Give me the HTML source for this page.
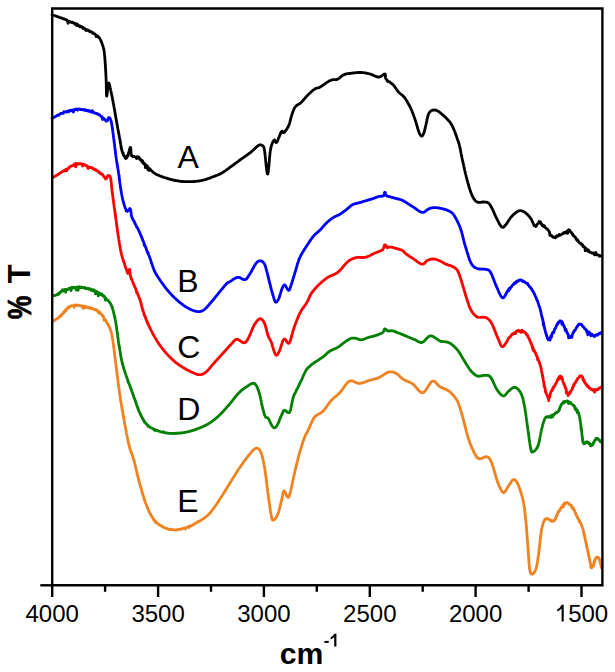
<!DOCTYPE html>
<html><head><meta charset="utf-8"><style>
html,body{margin:0;padding:0;background:#fff;}
svg{display:block;}
text{font-family:"Liberation Sans",sans-serif;}
</style></head><body>
<svg width="615" height="672" viewBox="0 0 615 672">
<rect width="615" height="672" fill="#fff"/>
<g fill="none" stroke-width="2.8" stroke-linejoin="round" stroke-linecap="round">
<polyline points="52.0,14.9 52.4,15.0 52.8,15.1 53.3,15.3 53.9,15.5 54.6,15.7 55.3,15.9 56.0,16.1 56.7,16.3 57.4,16.6 58.0,16.8 58.6,17.0 59.2,17.2 59.7,17.5 60.3,17.9 60.9,17.9 61.5,18.0 62.1,18.2 62.7,18.6 63.3,18.6 63.9,19.0 64.5,19.0 65.1,19.5 65.7,19.5 66.3,19.8 66.9,19.8 67.5,21.1 68.0,23.3 68.6,21.5 69.2,21.2 69.8,21.9 70.4,22.0 71.0,22.0 71.6,22.6 72.2,22.2 72.8,22.4 73.4,23.0 74.0,23.3 74.5,23.2 75.1,24.2 75.7,23.5 76.3,24.2 76.9,25.6 77.5,24.2 78.0,25.4 78.6,25.6 79.1,25.8 79.7,26.9 80.2,26.0 80.8,26.4 81.3,26.5 81.8,27.4 82.4,27.0 82.9,28.3 83.5,27.7 84.0,28.4 84.5,28.7 85.1,28.6 85.7,30.2 86.2,29.5 86.8,30.4 87.3,29.9 87.9,29.9 88.4,30.6 89.0,31.2 89.5,31.0 90.0,31.8 90.5,31.3 91.1,31.8 91.8,32.1 92.4,33.1 93.0,32.8 93.5,33.5 94.1,33.9 94.7,33.8 95.2,34.2 95.7,34.7 96.2,36.6 96.7,35.5 97.1,35.6 97.6,36.3 98.0,36.2 98.4,37.3 98.8,37.5 99.2,37.6 99.6,38.2 99.9,38.8 100.2,39.5 100.5,39.9 100.8,40.4 101.0,41.0 101.3,41.5 101.5,42.1 101.7,42.7 102.0,43.3 102.2,44.0 102.4,44.5 102.5,45.0 102.7,45.5 102.9,46.0 103.0,46.5 103.2,47.0 103.4,47.5 103.5,48.1 103.7,48.7 103.8,49.4 103.9,50.1 104.1,50.9 104.2,51.8 104.3,52.3 104.3,52.8 104.4,53.3 104.4,53.8 104.5,54.4 104.6,54.9 104.6,55.5 104.7,56.1 104.7,56.7 104.8,57.4 104.8,58.0 104.9,58.6 104.9,59.3 105.0,59.9 105.0,60.6 105.1,61.3 105.1,61.9 105.2,62.6 105.2,63.2 105.3,63.9 105.3,64.5 105.3,65.2 105.4,65.8 105.4,66.4 105.5,67.0 105.5,67.6 105.5,68.3 105.6,68.9 105.6,69.5 105.7,70.2 105.7,70.8 105.7,71.4 105.8,72.1 105.8,72.7 105.8,73.3 105.9,73.9 105.9,74.5 105.9,75.2 105.9,75.8 106.0,76.4 106.0,77.0 106.0,77.6 106.0,78.2 106.1,78.8 106.1,79.4 106.1,80.0 106.1,80.7 106.2,81.3 106.2,81.9 106.2,82.5 106.2,83.2 106.3,84.0 106.3,84.7 106.3,85.5 106.3,86.3 106.3,87.1 106.3,88.0 106.3,88.8 106.4,89.6 106.4,90.4 106.4,91.1 106.4,91.9 106.4,92.6 106.4,93.3 106.5,93.9 106.5,94.4 106.5,94.9 106.5,95.3 106.6,95.7 106.6,95.9 106.7,96.1 106.7,96.2 106.8,96.2 106.8,96.0 106.9,95.6 107.0,95.2 107.0,94.7 107.1,94.0 107.2,93.3 107.3,92.6 107.4,91.7 107.4,90.9 107.5,90.0 107.6,89.2 107.7,88.3 107.8,87.4 107.9,86.6 108.0,85.9 108.1,85.2 108.2,84.6 108.3,84.0 108.4,83.6 108.5,83.3 108.6,83.1 108.8,83.0 108.9,83.1 109.1,83.4 109.2,83.7 109.4,84.2 109.6,84.8 109.7,85.5 109.9,86.3 110.1,87.1 110.3,88.0 110.5,88.8 110.6,89.7 110.8,90.6 111.0,91.4 111.1,91.9 111.2,92.4 111.3,92.9 111.4,93.4 111.6,93.9 111.7,94.5 111.8,95.1 111.9,95.6 112.0,96.2 112.1,96.8 112.3,97.4 112.4,98.0 112.5,98.6 112.6,99.3 112.7,99.9 112.8,100.5 113.0,101.2 113.1,101.8 113.2,102.5 113.3,103.1 113.4,103.8 113.6,104.4 113.7,105.1 113.8,105.7 113.9,106.3 114.0,106.8 114.1,107.4 114.2,108.0 114.3,108.5 114.4,109.1 114.5,109.7 114.6,110.3 114.7,110.9 114.8,111.5 114.9,112.1 115.0,112.7 115.1,113.3 115.2,113.9 115.3,114.5 115.4,115.1 115.5,115.7 115.6,116.3 115.7,117.0 115.9,117.6 116.0,118.2 116.1,118.8 116.2,119.4 116.3,120.0 116.4,120.6 116.5,121.2 116.6,121.8 116.7,122.4 116.8,123.0 116.9,123.6 117.0,124.2 117.1,124.8 117.3,125.4 117.4,126.0 117.5,126.7 117.6,127.3 117.7,127.9 117.8,128.5 117.9,129.1 118.1,129.8 118.2,130.4 118.3,131.0 118.4,131.7 118.5,132.0 118.6,132.7 118.7,133.4 118.9,134.2 119.0,135.0 119.1,135.2 119.2,135.7 119.3,136.5 119.4,136.9 119.5,137.6 119.6,138.6 119.7,138.7 119.8,139.2 119.9,139.3 120.1,140.0 120.2,141.4 120.3,141.1 120.4,142.3 120.5,143.5 120.6,144.0 120.7,143.9 120.8,144.7 120.9,145.2 121.0,145.9 121.1,147.4 121.2,147.8 121.3,148.4 121.5,148.0 121.6,148.8 121.7,149.9 121.8,150.1 122.0,150.2 122.1,151.6 122.3,151.6 122.6,152.7 122.9,153.4 123.2,153.1 123.4,155.1 123.7,155.1 124.0,156.0 124.3,155.9 124.6,156.6 124.9,156.9 125.2,158.2 125.5,158.0 125.7,158.5 126.1,158.2 126.5,157.4 126.8,158.0 127.1,156.5 127.4,155.5 127.8,154.9 128.1,156.0 128.3,153.7 128.5,152.8 128.7,153.0 128.9,151.6 129.2,151.1 129.4,149.9 129.6,149.3 129.8,148.6 130.0,148.4 130.2,147.8 130.3,147.5 130.5,147.6 130.6,147.8 130.7,147.5 130.8,148.6 130.8,149.4 130.8,149.6 130.9,150.6 130.9,151.6 131.0,152.0 131.0,153.4 131.1,153.4 131.3,154.9 131.5,155.1 131.7,155.9 132.1,155.6 132.6,156.5 133.2,156.4 133.9,156.3 134.6,156.7 135.3,157.0 135.9,157.3 136.6,158.6 137.1,156.7 137.6,156.9 138.2,157.5 138.6,157.8 138.8,157.1 139.2,158.0 140.0,159.5 140.3,159.9 140.6,159.4 141.0,159.7 141.4,160.8 141.8,161.2 142.2,162.1 142.6,160.8 143.1,162.4 143.6,163.9 144.0,163.6 144.5,163.4 145.0,164.1 145.5,167.7 146.0,165.8 146.4,165.5 146.9,166.6 147.4,166.1 147.8,169.7 148.3,167.7 148.7,169.6 149.1,170.4 149.6,168.7 150.0,169.1 150.4,169.5 150.8,169.9 151.2,170.5 151.7,170.9 152.1,171.3 152.6,171.7 153.0,172.1 153.5,172.5 154.0,172.9 154.5,173.2 155.0,173.6 155.6,173.9 156.1,174.2 156.6,174.5 157.1,174.7 157.7,175.0 158.3,175.2 158.8,175.5 159.4,175.7 160.0,176.0 160.6,176.2 161.2,176.4 161.8,176.6 162.4,176.8 163.0,177.0 163.7,177.3 164.3,177.5 164.9,177.7 165.5,177.8 166.1,178.0 166.7,178.2 167.3,178.4 167.9,178.6 168.5,178.8 169.1,178.9 169.6,179.1 170.2,179.3 170.8,179.4 171.4,179.6 172.0,179.7 172.6,179.9 173.2,180.0 173.7,180.1 174.3,180.3 174.9,180.4 175.5,180.5 176.1,180.6 176.7,180.7 177.2,180.8 177.8,180.9 178.4,181.0 179.0,181.1 179.6,181.2 180.2,181.3 180.8,181.3 181.5,181.4 182.1,181.5 182.7,181.5 183.3,181.6 183.9,181.6 184.5,181.6 185.2,181.7 185.8,181.7 186.4,181.7 187.0,181.7 187.6,181.7 188.2,181.7 188.9,181.7 189.5,181.7 190.1,181.7 190.7,181.7 191.3,181.7 191.9,181.6 192.5,181.6 193.2,181.6 193.8,181.5 194.4,181.5 195.0,181.4 195.6,181.4 196.2,181.3 196.9,181.2 197.5,181.2 198.1,181.1 198.7,181.0 199.3,180.9 199.9,180.8 200.6,180.7 201.2,180.6 201.8,180.4 202.4,180.3 203.0,180.2 203.6,180.0 204.2,179.8 204.8,179.7 205.4,179.5 206.0,179.3 206.6,179.1 207.3,178.9 207.9,178.7 208.5,178.5 209.1,178.3 209.7,178.1 210.3,177.8 210.9,177.6 211.4,177.4 212.0,177.2 212.6,177.0 213.1,176.8 213.6,176.6 214.1,176.4 214.8,176.1 215.4,175.9 216.0,175.7 216.6,175.5 217.1,175.3 217.7,175.0 218.2,174.8 218.7,174.6 219.2,174.4 219.7,174.1 220.3,173.9 220.8,173.6 221.4,173.3 222.0,172.9 222.5,172.6 222.9,172.3 223.4,172.0 223.9,171.7 224.4,171.4 224.9,171.0 225.4,170.7 226.0,170.3 226.5,169.9 227.0,169.5 227.5,169.2 228.0,168.8 228.6,168.4 229.1,168.0 229.6,167.6 230.1,167.2 230.7,166.8 231.2,166.5 231.7,166.1 232.2,165.7 232.7,165.4 233.2,165.0 233.7,164.7 234.1,164.3 234.6,164.0 235.1,163.6 235.6,163.2 236.1,162.9 236.6,162.5 237.1,162.1 237.6,161.8 238.1,161.4 238.6,161.1 239.1,160.7 239.5,160.3 240.0,160.0 240.5,159.6 241.0,159.3 241.5,158.9 242.0,158.5 242.5,158.2 243.1,157.8 243.6,157.4 244.1,157.0 244.7,156.7 245.2,156.3 245.7,155.9 246.3,155.5 246.8,155.2 247.3,154.8 247.8,154.4 248.3,154.1 248.8,153.7 249.3,153.3 249.8,153.0 250.3,152.6 250.8,152.3 251.2,151.9 251.8,151.4 252.3,151.0 252.8,150.5 253.4,150.0 253.9,149.5 254.4,149.0 254.9,148.6 255.4,148.1 255.8,147.6 256.3,147.2 256.7,146.8 257.1,146.5 257.5,146.1 257.9,145.8 258.3,145.6 259.1,145.2 259.8,144.9 260.4,144.8 261.0,144.9 261.5,145.1 262.0,145.4 262.4,145.6 262.7,145.7 263.0,145.8 263.2,146.1 263.5,146.5 263.8,147.2 264.1,148.3 264.4,149.8 264.5,150.2 264.5,150.6 264.6,151.1 264.7,151.6 264.8,152.2 264.8,152.8 264.9,153.5 265.0,154.2 265.1,154.9 265.2,155.6 265.2,156.4 265.3,157.2 265.4,158.0 265.5,158.8 265.6,159.6 265.6,160.4 265.7,161.3 265.8,162.1 265.9,162.9 266.0,163.7 266.1,164.6 266.1,165.4 266.2,166.2 266.3,166.9 266.4,167.7 266.5,168.4 266.6,169.1 266.6,169.8 266.7,170.4 266.8,171.0 266.9,171.5 267.0,172.0 267.0,172.5 267.1,172.9 267.2,173.3 267.3,173.5 267.4,173.8 267.4,174.0 267.5,174.1 267.6,174.1 267.7,174.1 267.8,174.0 267.8,173.8 267.9,173.6 268.0,173.3 268.0,172.9 268.1,172.6 268.2,172.1 268.3,171.6 268.3,171.1 268.4,170.5 268.5,169.9 268.5,169.3 268.6,168.6 268.7,167.9 268.7,167.2 268.8,166.4 268.9,165.7 269.0,164.9 269.0,164.1 269.1,163.3 269.2,162.5 269.2,161.6 269.3,160.8 269.4,160.0 269.4,159.2 269.5,158.4 269.6,157.6 269.7,156.8 269.7,156.0 269.8,155.2 269.9,154.5 270.0,153.8 270.0,153.1 270.1,152.5 270.2,151.9 270.3,151.3 270.3,150.7 270.4,150.3 270.5,149.8 270.7,148.8 270.9,147.9 271.1,147.0 271.3,146.2 271.5,145.5 271.8,144.8 272.0,144.1 272.2,143.5 272.4,143.0 272.7,142.4 272.9,142.0 273.1,141.5 273.3,141.2 273.5,140.8 273.7,140.5 273.9,140.2 274.1,140.0 274.6,139.9 275.1,140.7 275.5,141.8 276.0,142.6 276.6,142.4 276.8,142.1 277.0,141.8 277.3,141.3 277.5,140.8 277.8,140.2 278.1,139.5 278.3,138.8 278.6,138.1 278.9,137.4 279.2,136.7 279.5,135.9 279.8,135.2 280.1,134.5 280.3,133.8 280.6,133.2 280.8,132.7 281.1,132.2 281.3,131.8 281.5,131.5 282.2,131.1 282.7,131.9 283.2,132.7 283.9,132.7 284.2,132.4 284.5,132.1 284.8,131.7 285.2,131.3 285.6,130.8 285.9,130.3 286.3,129.7 286.7,129.1 287.1,128.5 287.5,127.9 287.9,127.3 288.2,126.6 288.5,126.0 288.8,125.4 289.0,124.9 289.2,124.3 289.4,123.8 289.6,123.2 289.8,122.6 289.9,122.0 290.1,121.4 290.2,120.8 290.4,120.2 290.5,119.6 290.7,119.0 290.8,118.4 291.0,117.8 291.1,117.2 291.3,116.6 291.5,116.0 291.7,115.4 291.9,114.8 292.1,114.2 292.3,113.6 292.5,113.0 292.7,112.4 292.9,111.8 293.1,111.2 293.4,110.6 293.6,110.0 293.8,109.5 294.1,108.9 294.4,108.4 294.6,107.9 294.9,107.4 295.2,107.0 295.6,106.5 296.1,106.0 296.5,105.6 297.0,105.2 297.5,104.9 298.0,104.6 298.5,104.3 299.1,104.0 299.6,103.7 300.1,103.3 300.6,102.9 301.1,102.5 301.5,102.1 301.9,101.7 302.3,101.2 302.7,100.8 303.1,100.3 303.6,99.8 304.0,99.3 304.4,98.8 304.8,98.3 305.2,97.8 305.6,97.4 306.1,96.9 306.5,96.4 307.0,95.9 307.4,95.5 307.9,95.0 308.3,94.6 308.8,94.1 309.2,93.7 309.7,93.2 310.2,92.8 310.7,92.3 311.1,91.9 311.6,91.5 312.1,91.0 312.5,90.6 313.0,90.3 313.4,89.9 313.9,89.6 314.3,89.3 314.9,88.9 315.5,88.6 316.1,88.4 316.7,88.2 317.2,88.1 317.7,88.0 318.3,87.8 318.9,87.7 319.5,87.4 320.1,87.1 320.6,86.8 321.1,86.5 321.6,86.1 322.2,85.8 322.7,85.4 323.3,85.0 323.9,84.5 324.5,84.1 325.0,83.7 325.6,83.3 326.1,82.9 326.6,82.6 327.1,82.3 327.5,82.0 328.2,81.6 328.8,81.2 329.3,80.9 329.8,80.7 330.3,80.5 330.8,80.3 331.3,80.1 331.9,79.9 332.5,79.8 333.1,79.7 333.7,79.7 334.4,79.7 335.0,79.7 335.7,79.7 336.4,79.6 337.0,79.4 337.7,79.2 338.2,79.0 338.7,78.6 339.1,78.3 339.6,77.9 340.1,77.5 340.6,77.0 341.0,76.6 341.5,76.2 342.0,75.8 342.5,75.4 343.1,75.1 343.6,74.8 344.2,74.6 344.7,74.4 345.3,74.2 345.8,74.1 346.4,73.9 347.0,73.8 347.6,73.7 348.2,73.6 348.8,73.6 349.5,73.5 350.2,73.4 350.9,73.3 351.4,73.2 352.0,73.2 352.5,73.1 353.1,73.0 353.7,72.9 354.3,72.9 355.0,72.8 355.6,72.7 356.2,72.7 356.9,72.6 357.5,72.6 358.1,72.5 358.7,72.5 359.3,72.5 359.9,72.5 360.5,72.5 361.1,72.5 361.8,72.5 362.4,72.6 363.1,72.6 363.7,72.7 364.3,72.8 365.0,72.9 365.6,73.0 366.2,73.1 366.8,73.3 367.4,73.4 368.0,73.5 368.6,73.7 369.3,73.8 369.9,74.0 370.5,74.2 371.1,74.4 371.7,74.6 372.3,74.9 373.0,75.1 373.6,75.4 374.2,75.7 374.8,76.0 375.4,76.2 376.0,76.5 376.6,76.7 377.2,76.9 377.8,77.0 378.3,77.0 378.8,77.1 379.5,77.0 380.1,76.6 380.8,76.5 381.4,76.2 382.0,75.7 382.6,75.3 383.2,75.0 383.7,74.4 384.1,74.1 384.5,74.0 384.9,74.1 385.2,74.2 385.4,74.8 385.4,75.3 385.4,76.0 385.4,76.6 385.5,77.4 385.7,78.4 386.1,79.0 386.4,79.5 386.8,79.8 387.2,80.2 387.7,81.5 388.2,81.1 388.8,81.5 389.3,81.7 389.9,82.0 390.4,82.8 391.0,83.1 391.6,83.5 392.1,83.9 392.6,84.3 393.0,84.7 393.4,85.1 393.9,85.7 394.4,86.2 394.8,86.8 395.2,87.3 395.5,87.9 395.9,88.4 396.2,88.9 396.5,89.4 396.8,89.9 397.1,90.3 397.5,90.9 398.0,91.3 398.3,91.8 398.7,92.2 399.1,92.6 399.5,93.0 400.0,93.4 400.4,93.8 400.9,94.2 401.4,94.5 401.9,94.9 402.4,95.3 402.9,95.8 403.4,96.3 403.9,96.8 404.3,97.2 404.6,97.7 405.0,98.2 405.3,98.7 405.7,99.2 406.0,99.7 406.4,100.3 406.7,100.9 407.1,101.5 407.4,102.1 407.8,102.7 408.1,103.2 408.4,103.7 408.6,104.2 408.9,104.7 409.2,105.2 409.5,105.8 409.8,106.3 410.0,106.9 410.3,107.4 410.6,108.0 410.9,108.6 411.1,109.2 411.4,109.8 411.7,110.5 411.9,111.0 412.1,111.6 412.4,112.1 412.6,112.7 412.8,113.3 413.0,113.9 413.3,114.5 413.5,115.1 413.7,115.7 413.9,116.3 414.2,117.0 414.4,117.6 414.6,118.2 414.8,118.8 415.0,119.4 415.2,120.0 415.4,120.6 415.6,121.2 415.8,121.8 416.0,122.4 416.2,123.1 416.4,123.7 416.6,124.3 416.7,125.0 416.9,125.6 417.1,126.2 417.3,126.8 417.4,127.4 417.6,128.0 417.7,128.6 417.9,129.1 418.1,129.6 418.2,130.1 418.4,130.6 418.5,131.0 418.8,131.9 419.2,132.7 419.4,133.4 419.7,133.9 420.0,134.4 420.2,134.8 420.5,135.2 421.3,136.1 422.0,136.0 422.3,135.8 422.6,135.4 422.9,135.0 423.2,134.4 423.6,133.7 423.9,132.9 424.1,132.5 424.2,132.0 424.4,131.4 424.5,130.9 424.7,130.3 424.8,129.7 425.0,129.0 425.1,128.4 425.3,127.7 425.4,127.1 425.6,126.4 425.7,125.7 425.9,125.1 426.0,124.5 426.2,123.9 426.3,123.3 426.4,122.7 426.5,122.1 426.7,121.4 426.8,120.8 426.9,120.2 427.0,119.5 427.2,118.9 427.3,118.4 427.4,117.8 427.5,117.3 427.7,116.8 427.8,116.3 428.1,115.4 428.3,114.7 428.6,114.0 428.8,113.4 429.1,112.9 429.4,112.5 429.8,112.0 430.3,111.5 430.8,111.1 431.4,110.7 432.0,110.4 432.6,110.2 433.2,110.0 433.8,109.9 434.5,110.0 435.1,110.1 435.8,110.2 436.4,110.4 437.1,110.7 437.6,111.0 438.2,111.3 438.7,111.6 439.3,112.0 439.8,112.4 440.4,112.9 441.0,113.4 441.4,113.8 441.9,114.2 442.4,114.6 442.9,115.0 443.4,115.4 443.9,115.9 444.4,116.4 444.9,116.8 445.4,117.3 445.9,117.8 446.3,118.2 446.7,118.6 447.1,119.0 447.6,119.5 448.0,119.9 448.4,120.4 448.8,120.8 449.2,121.3 449.6,121.7 450.0,122.2 450.3,122.7 450.7,123.2 451.0,123.7 451.3,124.2 451.6,124.7 451.9,125.3 452.2,125.8 452.5,126.3 452.7,126.9 453.0,127.5 453.3,128.1 453.5,128.7 453.8,129.3 454.1,130.0 454.3,130.5 454.5,131.0 454.7,131.6 455.0,132.2 455.2,132.8 455.4,133.4 455.6,134.0 455.8,134.6 456.1,135.3 456.3,135.9 456.5,136.5 456.7,137.1 456.9,137.7 457.1,138.3 457.3,138.8 457.4,139.3 457.6,139.8 457.9,140.5 458.1,141.1 458.3,141.6 458.4,142.1 458.6,142.5 458.8,143.0 458.9,143.5 459.1,144.1 459.3,144.8 459.5,145.6 459.6,146.1 459.7,146.5 459.8,147.0 459.9,147.5 460.0,148.0 460.1,148.6 460.3,149.1 460.4,149.7 460.5,150.3 460.6,150.9 460.7,151.5 460.8,152.2 461.0,152.8 461.1,153.5 461.2,154.1 461.4,154.8 461.5,155.5 461.6,156.2 461.8,156.9 461.9,157.7 462.1,158.4 462.2,158.9 462.3,159.4 462.4,160.0 462.6,160.5 462.7,161.1 462.8,161.7 463.0,162.3 463.1,162.9 463.2,163.5 463.4,164.1 463.5,164.7 463.6,165.4 463.8,166.0 463.9,166.6 464.1,167.3 464.2,167.9 464.4,168.6 464.5,169.2 464.6,169.8 464.8,170.5 464.9,171.1 465.1,171.7 465.2,172.3 465.4,172.9 465.5,173.5 465.6,174.1 465.8,174.7 465.9,175.2 466.0,175.8 466.2,176.3 466.3,176.8 466.5,177.5 466.7,178.2 466.8,178.9 467.0,179.5 467.2,180.2 467.3,180.8 467.5,181.4 467.7,182.0 467.8,182.6 468.0,183.2 468.1,183.8 468.3,184.3 468.5,184.9 468.6,185.4 468.8,186.0 468.9,186.5 469.1,187.0 469.3,187.5 469.4,188.0 469.6,188.5 469.7,189.0 469.9,189.5 470.1,190.2 470.4,190.9 470.6,191.5 470.8,192.2 471.0,192.8 471.3,193.4 471.5,194.0 471.7,194.6 472.0,195.1 472.2,195.6 472.4,196.2 472.7,196.6 472.9,197.1 473.1,197.6 473.4,198.0 473.8,198.7 474.3,199.3 474.7,199.9 475.1,200.4 475.6,200.9 476.1,201.3 476.6,201.6 477.1,202.0 477.6,202.2 478.2,202.4 478.8,202.4 479.4,202.4 480.1,202.4 480.7,202.3 481.4,202.1 482.1,202.1 482.7,202.0 483.3,202.0 484.0,202.0 484.6,202.1 485.3,202.1 485.9,202.1 486.5,202.2 487.1,202.4 487.7,202.6 488.2,202.9 488.6,203.2 489.0,203.6 489.3,203.9 489.7,204.3 490.0,204.8 490.3,205.3 490.7,205.9 491.0,206.5 491.4,207.2 491.8,207.9 492.0,208.3 492.3,208.8 492.5,209.3 492.7,209.8 493.0,210.3 493.2,210.8 493.5,211.4 493.7,212.0 494.0,212.6 494.2,213.2 494.5,213.8 494.8,214.4 495.0,215.0 495.3,215.6 495.6,216.1 495.8,216.7 496.1,217.3 496.3,217.8 496.6,218.3 496.9,218.9 497.2,219.5 497.5,220.1 497.8,220.8 498.2,221.4 498.5,222.1 498.8,222.7 499.1,223.3 499.4,223.9 499.8,224.4 500.1,224.9 500.4,225.4 500.7,225.8 500.9,226.2 501.2,226.5 501.5,226.8 502.1,227.2 502.7,227.4 503.2,227.3 503.8,226.9 504.4,226.3 505.1,225.6 505.4,225.3 505.7,224.9 506.0,224.5 506.3,224.1 506.7,223.6 507.0,223.0 507.4,222.5 507.7,221.9 508.1,221.4 508.5,220.8 508.9,220.2 509.2,219.6 509.6,219.1 510.0,218.5 510.4,218.0 510.8,217.5 511.2,217.1 511.7,216.6 512.1,216.1 512.6,215.6 513.1,215.1 513.6,214.6 514.1,214.1 514.6,213.7 515.1,213.2 515.6,212.8 516.1,212.4 516.6,212.0 517.1,211.7 517.6,211.4 518.0,211.2 518.5,211.0 519.2,210.8 519.8,210.7 520.4,210.7 521.0,210.7 521.6,210.8 522.2,211.0 522.8,211.2 523.4,211.5 524.0,211.8 524.6,212.2 525.0,212.5 525.5,212.8 525.9,213.2 526.4,213.5 526.9,214.0 527.3,214.4 527.8,214.8 528.2,215.3 528.7,215.8 529.1,216.3 529.5,216.8 529.9,217.3 530.3,217.8 530.7,218.3 531.1,218.8 531.4,219.4 531.7,220.0 532.0,220.7 532.3,221.4 532.6,222.0 532.9,222.6 533.2,223.2 533.4,223.8 533.7,224.6 534.0,225.2 534.3,225.8 534.6,225.4 534.9,225.8 535.4,225.9 535.9,226.5 536.4,225.9 536.9,224.5 537.5,223.9 538.0,223.6 538.5,223.5 539.0,221.5 539.4,222.3 539.8,221.9 540.3,221.7 540.6,222.5 540.9,222.9 541.2,223.5 541.6,224.5 542.2,225.5 542.5,224.7 542.9,225.6 543.3,226.2 543.8,226.5 544.3,225.6 544.8,226.9 545.3,227.7 545.9,228.1 546.4,228.6 546.9,228.8 547.4,229.0 547.8,230.0 548.2,230.2 548.6,230.6 548.9,231.0 549.4,232.3 549.7,232.7 549.8,235.3 549.9,233.9 550.0,234.8 550.2,235.0 550.5,235.2 551.0,235.7 551.6,235.5 552.2,236.5 552.9,236.8 553.7,237.6 554.4,237.2 555.0,237.0 555.5,237.8 556.1,237.2 556.7,235.9 557.3,235.7 558.0,236.0 558.6,235.9 559.3,234.4 559.8,234.9 560.4,235.0 560.9,234.7 561.5,234.4 562.1,233.8 562.7,233.6 563.3,233.5 563.9,232.6 564.4,232.4 564.9,232.4 565.4,233.0 566.0,232.2 566.6,231.3 567.1,232.2 567.6,233.4 568.0,230.8 568.5,229.8 569.0,230.0 569.4,230.5 569.8,230.2 570.1,231.3 570.5,231.9 570.9,232.2 571.3,232.8 571.7,232.6 572.2,234.2 572.7,234.8 573.0,234.3 573.4,235.8 573.7,235.7 574.1,236.3 574.5,236.4 574.9,237.2 575.2,237.2 575.7,237.6 576.1,239.0 576.5,239.6 576.9,240.1 577.4,239.6 577.8,241.1 578.3,240.9 578.8,242.2 579.2,242.6 579.6,243.0 580.0,243.3 580.4,243.2 580.8,243.6 581.2,244.3 581.7,244.0 582.1,244.7 582.6,244.9 583.0,246.6 583.5,246.8 584.0,246.4 584.4,247.0 584.9,247.6 585.3,250.7 585.7,248.2 586.1,249.7 586.5,248.9 586.9,249.7 587.3,250.6 587.9,251.2 588.5,249.9 589.1,251.4 589.6,252.2 590.2,252.2 590.7,252.4 591.2,252.7 591.7,253.1 592.2,253.0 592.8,253.1 593.4,253.0 594.0,254.1 594.6,254.8 595.2,254.4 595.9,252.5 596.6,254.9 597.2,254.7 597.9,255.0 598.6,255.1 599.2,256.2 599.7,255.5 600.2,255.8 600.7,256.0 601.0,256.2" stroke="#000000"/>
<polyline points="52.0,118.3 52.3,118.1 52.7,118.0 53.1,117.8 53.5,117.5 54.0,117.3 54.5,117.0 55.0,116.7 55.6,116.4 56.2,116.1 56.8,115.9 57.4,115.2 58.1,114.8 58.8,115.3 59.4,114.6 60.1,113.8 60.8,113.5 61.5,113.4 62.2,113.3 62.7,113.2 63.2,113.4 63.8,111.7 64.3,112.3 64.9,112.0 65.5,111.7 66.0,111.8 66.6,112.1 67.2,111.3 67.8,111.8 68.5,111.0 69.1,111.4 69.7,110.5 70.3,110.6 70.9,110.3 71.5,110.7 72.2,109.9 72.8,110.4 73.4,112.0 74.0,110.1 74.6,109.4 75.1,109.2 75.7,109.6 76.3,109.5 76.8,108.9 77.5,110.2 78.1,109.1 78.8,109.1 79.5,108.9 80.1,109.6 80.8,109.2 81.4,109.5 82.0,109.8 82.7,109.7 83.3,109.9 83.9,109.4 84.5,110.3 85.1,109.7 85.7,109.9 86.3,110.6 86.9,110.3 87.4,110.6 88.0,111.0 88.5,110.5 89.0,111.4 89.7,110.8 90.4,111.8 91.0,111.6 91.7,112.1 92.3,110.6 92.9,112.4 93.4,112.0 94.0,112.6 94.5,112.8 95.1,113.4 95.6,113.3 96.1,113.4 96.6,113.3 97.1,114.1 97.7,113.8 98.4,114.6 99.0,114.5 99.5,114.8 100.1,115.4 100.7,116.3 101.2,116.3 101.7,116.7 102.2,118.1 102.7,119.5 103.1,117.9 103.7,118.3 104.2,118.9 104.7,119.4 105.1,119.7 105.6,120.4 105.9,120.8 106.3,121.1 106.7,121.2 107.1,121.0 107.4,120.5 107.8,119.7 108.1,118.9 108.4,118.2 108.7,117.7 109.0,117.6 109.3,117.7 109.6,117.9 109.9,118.3 110.2,118.7 110.5,119.4 110.8,120.2 111.1,121.2 111.4,122.4 111.5,122.8 111.6,123.2 111.7,123.7 111.8,124.2 111.8,124.7 111.9,125.2 112.0,125.8 112.1,126.4 112.2,127.0 112.3,127.6 112.4,128.2 112.5,128.8 112.6,129.5 112.6,130.1 112.7,130.8 112.8,131.5 112.9,132.2 113.0,132.8 113.1,133.5 113.2,134.2 113.3,134.9 113.4,135.6 113.4,136.3 113.5,137.0 113.6,137.7 113.7,138.3 113.8,139.0 113.9,139.6 113.9,140.1 114.0,140.7 114.1,141.3 114.2,141.9 114.2,142.5 114.3,143.1 114.4,143.7 114.5,144.3 114.5,144.9 114.6,145.5 114.7,146.1 114.8,146.7 114.8,147.3 114.9,148.0 115.0,148.6 115.1,149.2 115.1,149.8 115.2,150.4 115.3,151.0 115.4,151.7 115.4,152.3 115.5,152.9 115.6,153.5 115.7,154.1 115.7,154.7 115.8,155.3 115.9,155.8 116.0,156.4 116.0,157.0 116.1,157.5 116.2,158.1 116.3,158.8 116.4,159.4 116.5,160.0 116.6,160.7 116.7,161.3 116.8,161.9 116.9,162.6 117.0,163.2 117.1,163.8 117.2,164.4 117.3,165.0 117.4,165.6 117.5,166.2 117.6,166.8 117.7,167.4 117.8,168.0 117.9,168.6 118.0,169.1 118.1,169.7 118.2,170.3 118.3,170.9 118.4,171.5 118.5,172.0 118.5,172.6 118.6,173.2 118.7,173.7 118.8,174.3 118.9,174.9 119.0,175.6 119.1,176.2 119.1,176.8 119.2,177.4 119.3,178.0 119.4,178.6 119.4,179.2 119.5,179.8 119.6,180.4 119.7,181.0 119.7,181.6 119.8,182.2 119.9,182.7 119.9,183.3 120.0,183.9 120.1,184.5 120.2,185.1 120.3,185.7 120.3,186.2 120.4,186.8 120.5,187.4 120.6,188.0 120.7,188.6 120.8,189.2 120.9,189.8 121.0,190.4 121.1,191.1 121.2,191.7 121.3,192.3 121.5,193.0 121.6,193.6 121.7,194.2 121.8,194.9 121.9,195.5 122.0,196.1 122.2,196.7 122.3,197.4 122.4,198.0 122.6,198.6 122.7,199.2 122.8,199.7 122.9,200.3 123.1,200.9 123.2,201.4 123.3,201.9 123.5,202.4 123.6,202.9 123.8,203.6 124.0,204.4 124.3,205.1 124.5,205.9 124.7,206.4 125.0,207.1 125.2,207.9 125.5,208.4 125.7,208.9 125.9,209.6 126.2,211.0 126.4,210.1 126.6,210.5 126.9,210.9 127.1,211.0 127.7,211.3 128.2,210.6 128.8,209.7 129.3,209.4 129.8,208.5 130.2,208.9 130.4,209.2 130.5,209.7 130.6,210.0 130.7,209.9 130.8,211.6 130.9,211.4 131.0,212.3 131.1,212.9 131.2,213.9 131.3,215.5 131.4,215.4 131.6,216.1 131.7,216.8 131.9,217.3 132.1,218.0 132.3,217.9 132.6,218.7 132.8,219.5 133.1,220.1 133.4,220.1 133.7,220.6 133.9,221.3 134.2,221.6 134.6,222.2 134.9,223.3 135.2,223.7 135.5,224.2 135.7,224.7 136.0,225.4 136.3,225.7 136.5,226.6 136.8,227.2 137.1,227.1 137.4,228.2 137.6,228.2 137.9,228.8 138.2,229.5 138.5,230.1 138.8,230.8 139.1,231.2 139.4,232.0 139.6,232.4 139.9,233.4 140.2,233.5 140.4,234.4 140.7,235.0 140.9,235.3 141.1,236.2 141.3,236.3 141.6,236.8 141.8,237.9 142.0,238.1 142.3,238.7 142.5,239.2 142.7,240.2 142.9,240.8 143.2,240.8 143.4,241.5 143.6,242.0 143.9,243.1 144.1,243.2 144.3,245.4 144.5,244.9 144.8,245.0 145.0,245.5 145.2,246.2 145.5,246.7 145.7,247.8 145.9,247.8 146.2,248.7 146.4,248.9 146.6,249.9 146.9,250.6 147.1,251.6 147.3,251.3 147.6,252.9 147.8,252.5 148.0,253.0 148.3,253.6 148.5,254.4 148.7,254.8 148.9,255.3 149.2,256.0 149.4,256.5 149.6,257.2 149.8,257.6 150.0,258.2 150.2,258.8 150.5,259.5 150.7,260.1 150.9,260.7 151.1,261.4 151.3,262.0 151.5,262.7 151.7,263.3 151.9,263.9 152.1,264.5 152.3,265.1 152.5,265.7 152.7,266.3 152.9,266.8 153.1,267.4 153.3,267.9 153.4,268.3 153.6,268.8 153.9,269.6 154.1,270.2 154.4,270.8 154.6,271.2 154.8,271.7 155.0,272.1 155.2,272.6 155.5,273.1 155.9,273.7 156.3,274.4 156.6,274.8 156.8,275.3 157.1,275.7 157.4,276.2 157.7,276.7 158.1,277.2 158.4,277.7 158.8,278.3 159.1,278.8 159.5,279.4 159.9,279.9 160.2,280.5 160.6,281.0 161.0,281.5 161.4,282.1 161.7,282.6 162.1,283.1 162.5,283.6 162.8,284.1 163.2,284.6 163.6,285.1 163.9,285.6 164.3,286.1 164.7,286.6 165.0,287.1 165.4,287.6 165.8,288.1 166.1,288.5 166.5,289.0 166.9,289.5 167.3,289.9 167.7,290.4 168.1,290.9 168.5,291.3 168.9,291.8 169.3,292.3 169.7,292.7 170.1,293.2 170.5,293.6 170.9,294.0 171.3,294.5 171.7,294.9 172.1,295.3 172.5,295.8 172.9,296.2 173.4,296.6 173.8,297.1 174.2,297.5 174.7,297.9 175.1,298.3 175.6,298.7 176.0,299.2 176.5,299.6 176.9,300.0 177.4,300.4 177.9,300.8 178.3,301.2 178.8,301.6 179.3,302.0 179.7,302.4 180.2,302.8 180.7,303.2 181.2,303.5 181.7,303.9 182.2,304.3 182.7,304.7 183.2,305.1 183.7,305.4 184.2,305.8 184.7,306.1 185.2,306.5 185.7,306.8 186.2,307.1 186.7,307.4 187.2,307.7 187.8,308.0 188.4,308.3 189.0,308.6 189.6,308.9 190.2,309.2 190.8,309.5 191.4,309.8 192.0,310.0 192.6,310.3 193.1,310.5 193.7,310.7 194.3,310.9 194.8,311.0 195.4,311.2 195.9,311.3 196.4,311.4 196.9,311.5 197.6,311.6 198.3,311.6 198.9,311.7 199.5,311.6 200.1,311.5 200.6,311.4 201.2,311.3 201.7,311.1 202.3,310.8 202.8,310.5 203.4,310.2 203.8,309.9 204.3,309.6 204.7,309.3 205.1,308.9 205.5,308.5 205.9,308.1 206.3,307.7 206.8,307.3 207.2,306.8 207.6,306.3 208.1,305.8 208.5,305.3 209.0,304.8 209.4,304.2 209.9,303.7 210.3,303.3 210.6,302.9 211.0,302.5 211.3,302.0 211.7,301.6 212.1,301.1 212.5,300.7 212.9,300.2 213.3,299.7 213.6,299.2 214.0,298.8 214.4,298.3 214.8,297.8 215.2,297.3 215.6,296.8 216.0,296.3 216.4,295.8 216.8,295.3 217.2,294.8 217.6,294.4 218.0,293.9 218.4,293.4 218.8,292.9 219.2,292.4 219.6,291.9 220.0,291.4 220.5,290.9 220.9,290.4 221.3,289.8 221.7,289.3 222.2,288.8 222.6,288.3 223.0,287.8 223.4,287.3 223.8,286.8 224.2,286.4 224.5,285.9 224.9,285.5 225.3,285.1 225.6,284.7 225.9,284.4 226.2,284.1 226.9,283.4 227.5,282.9 227.9,282.6 228.3,282.4 228.8,282.2 229.3,282.0 230.0,281.6 230.4,281.3 230.9,281.0 231.4,280.7 232.0,280.3 232.5,279.9 233.1,279.5 233.7,279.1 234.3,278.8 234.9,278.4 235.5,278.1 236.1,277.8 236.7,277.6 237.3,277.4 237.8,277.3 238.4,277.3 239.1,277.4 239.7,277.6 240.3,277.9 241.0,278.2 241.6,278.6 242.2,278.9 242.8,279.2 243.4,279.5 244.0,279.7 244.5,279.7 245.0,279.7 245.5,279.5 246.0,279.3 246.4,279.0 246.8,278.6 247.1,278.2 247.5,277.7 247.8,277.1 248.2,276.5 248.6,275.9 249.0,275.2 249.5,274.5 249.8,274.1 250.0,273.6 250.3,273.1 250.6,272.6 251.0,272.1 251.3,271.5 251.6,270.9 251.9,270.3 252.2,269.7 252.6,269.1 252.9,268.5 253.2,267.9 253.6,267.3 253.9,266.7 254.2,266.1 254.5,265.6 254.9,265.1 255.2,264.6 255.4,264.2 255.7,263.8 256.0,263.4 256.7,262.6 257.3,262.0 257.9,261.5 258.5,261.2 259.0,261.0 259.5,260.8 260.1,260.8 260.6,260.8 261.1,260.9 261.7,261.1 262.2,261.4 262.7,261.8 263.2,262.2 263.6,262.8 264.1,263.4 264.5,264.1 264.7,264.5 264.9,265.0 265.1,265.5 265.3,266.0 265.5,266.5 265.7,267.1 265.8,267.7 266.0,268.3 266.2,269.0 266.4,269.6 266.5,270.3 266.7,271.0 266.9,271.7 267.1,272.5 267.2,273.0 267.4,273.5 267.5,274.0 267.6,274.6 267.8,275.2 267.9,275.7 268.1,276.3 268.2,276.9 268.4,277.6 268.5,278.2 268.7,278.8 268.8,279.4 269.0,280.0 269.1,280.7 269.3,281.3 269.4,281.9 269.6,282.5 269.7,283.2 269.9,283.8 270.0,284.3 270.2,284.9 270.3,285.5 270.5,286.1 270.6,286.8 270.8,287.4 271.0,288.0 271.1,288.7 271.3,289.3 271.5,290.0 271.7,290.6 271.8,291.2 272.0,291.8 272.2,292.5 272.4,293.1 272.5,293.7 272.7,294.2 272.9,294.8 273.0,295.3 273.2,295.8 273.3,296.3 273.5,296.8 273.6,297.2 273.9,298.1 274.1,298.9 274.4,299.7 274.6,300.4 274.8,300.9 275.0,301.4 275.3,301.8 275.5,302.1 275.8,302.2 276.2,302.2 276.6,302.0 277.0,301.5 277.5,301.0 277.9,300.2 278.4,299.4 278.8,298.5 279.0,298.1 279.2,297.6 279.4,297.1 279.6,296.5 279.7,295.9 279.9,295.3 280.1,294.6 280.3,294.0 280.5,293.3 280.7,292.7 280.9,292.0 281.1,291.4 281.3,290.8 281.5,290.2 281.6,289.7 281.8,289.2 282.0,288.8 282.4,287.9 282.8,287.0 283.2,286.3 283.5,285.7 283.9,285.3 284.2,285.0 284.6,284.9 285.0,285.1 285.4,285.5 285.7,286.2 286.1,286.9 286.5,287.6 286.9,288.3 287.2,288.8 287.9,289.7 288.5,290.4 289.2,290.1 289.4,289.8 289.6,289.4 289.8,289.0 290.0,288.4 290.2,287.9 290.4,287.2 290.6,286.6 290.9,285.9 291.1,285.1 291.3,284.4 291.6,283.6 291.8,282.9 292.0,282.4 292.1,281.9 292.3,281.4 292.5,280.8 292.6,280.3 292.8,279.7 293.0,279.1 293.2,278.5 293.4,277.9 293.5,277.3 293.7,276.7 293.9,276.1 294.1,275.5 294.3,274.9 294.5,274.3 294.6,273.7 294.8,273.1 295.0,272.5 295.2,271.9 295.3,271.3 295.5,270.8 295.7,270.2 295.9,269.6 296.0,268.9 296.2,268.3 296.4,267.7 296.6,267.1 296.7,266.5 296.9,265.9 297.1,265.3 297.3,264.7 297.4,264.1 297.6,263.6 297.8,263.0 298.0,262.5 298.1,262.0 298.3,261.5 298.5,260.8 298.8,260.2 299.0,259.6 299.2,259.1 299.4,258.6 299.6,258.1 299.8,257.6 300.0,257.1 300.3,256.6 300.5,256.1 300.8,255.5 301.1,254.9 301.5,254.3 301.8,253.8 302.0,253.4 302.3,252.9 302.6,252.4 302.9,251.9 303.2,251.4 303.6,250.8 303.9,250.3 304.2,249.7 304.6,249.2 304.9,248.6 305.3,248.1 305.6,247.5 306.0,247.0 306.3,246.4 306.7,245.9 307.0,245.4 307.4,244.9 307.7,244.4 308.0,243.9 308.4,243.3 308.7,242.8 309.1,242.3 309.4,241.7 309.8,241.2 310.2,240.7 310.5,240.1 310.9,239.6 311.2,239.1 311.6,238.6 311.9,238.2 312.3,237.7 312.6,237.2 312.9,236.8 313.3,236.3 313.6,235.9 314.0,235.5 314.5,235.0 314.9,234.5 315.4,234.1 315.8,233.7 316.3,233.3 316.7,232.9 317.2,232.5 317.7,232.2 318.1,231.8 318.6,231.4 319.0,231.0 319.5,230.6 320.0,230.1 320.4,229.7 320.8,229.3 321.2,228.8 321.6,228.4 322.0,227.9 322.4,227.4 322.8,227.0 323.2,226.5 323.6,226.0 324.0,225.5 324.5,225.1 324.9,224.6 325.3,224.2 325.7,223.7 326.1,223.3 326.5,222.9 327.0,222.4 327.5,222.0 328.0,221.5 328.5,221.1 329.0,220.7 329.5,220.3 330.0,219.9 330.5,219.5 331.0,219.1 331.5,218.7 332.0,218.4 332.5,218.0 333.0,217.7 333.5,217.4 334.1,217.1 334.6,216.8 335.2,216.5 335.7,216.3 336.2,216.1 336.8,215.8 337.3,215.6 337.9,215.4 338.4,215.1 339.0,214.8 339.5,214.5 340.0,214.2 340.5,213.9 341.0,213.5 341.5,213.2 342.0,212.9 342.5,212.5 343.0,212.1 343.5,211.8 344.0,211.4 344.5,211.0 345.0,210.7 345.5,210.3 346.0,209.9 346.5,209.5 347.0,209.1 347.5,208.7 348.0,208.2 348.5,207.8 349.0,207.4 349.5,206.9 350.0,206.5 350.5,206.1 351.0,205.7 351.5,205.3 352.0,205.0 352.5,204.7 353.1,204.4 353.7,204.2 354.3,203.9 354.9,203.8 355.5,203.6 356.0,203.5 356.6,203.4 357.2,203.2 357.8,203.1 358.4,203.0 359.0,202.8 359.6,202.6 360.2,202.4 360.8,202.3 361.4,202.1 362.0,201.9 362.5,201.7 363.1,201.5 363.7,201.3 364.3,201.2 364.9,201.0 365.5,200.8 366.1,200.6 366.7,200.5 367.3,200.3 367.9,200.1 368.5,200.0 369.0,199.8 369.6,199.6 370.2,199.4 370.8,199.3 371.4,199.1 372.0,198.9 372.6,198.7 373.2,198.5 373.8,198.3 374.4,198.0 375.0,197.8 375.6,197.6 376.2,197.4 376.8,197.1 377.4,196.9 378.0,196.8 378.5,196.6 379.2,196.4 380.0,196.3 380.7,196.1 381.4,196.3 382.1,196.1 382.7,196.0 383.3,195.6 383.7,195.8 384.2,195.0 384.4,194.3 384.5,193.5 384.5,192.5 384.6,192.3 385.4,192.5 385.5,192.7 385.6,193.5 385.7,194.1 385.9,195.1 386.5,195.6 386.9,195.8 387.3,196.2 387.8,196.2 388.4,196.5 389.0,196.5 389.6,196.7 390.2,196.8 390.9,197.0 391.5,197.3 392.2,197.4 392.8,197.6 393.4,197.8 394.0,197.9 394.6,198.1 395.3,198.3 395.9,198.4 396.6,198.6 397.2,198.8 397.9,198.9 398.5,199.1 399.0,199.2 399.5,199.4 400.0,199.5 400.8,199.7 401.3,199.8 401.6,199.9 402.2,200.2 403.2,200.7 403.6,200.9 403.9,201.1 404.4,201.4 404.8,201.7 405.3,202.0 405.8,202.3 406.3,202.6 406.8,202.9 407.4,203.3 407.9,203.7 408.5,204.0 409.1,204.4 409.6,204.7 410.2,205.1 410.8,205.5 411.3,205.8 411.9,206.2 412.4,206.5 412.9,206.8 413.4,207.1 414.0,207.5 414.5,207.9 415.0,208.3 415.6,208.6 416.1,209.0 416.7,209.4 417.2,209.8 417.7,210.2 418.3,210.6 418.8,210.9 419.3,211.2 419.8,211.5 420.3,211.8 420.8,212.0 421.3,212.2 421.8,212.3 422.2,212.4 422.8,212.4 423.5,212.3 424.1,212.1 424.6,211.8 425.2,211.4 425.7,211.0 426.2,210.6 426.7,210.2 427.2,209.7 427.8,209.4 428.3,209.0 428.8,208.8 429.4,208.6 430.0,208.4 430.6,208.2 431.1,208.0 431.7,207.9 432.2,207.8 432.8,207.7 433.5,207.6 434.1,207.6 434.9,207.6 435.4,207.6 436.0,207.7 436.5,207.7 437.1,207.8 437.7,207.9 438.4,207.9 439.0,208.0 439.7,208.2 440.3,208.3 441.0,208.4 441.6,208.5 442.3,208.7 442.9,208.8 443.5,209.0 444.1,209.1 444.6,209.3 445.3,209.5 445.9,209.7 446.5,209.9 447.1,210.1 447.7,210.4 448.3,210.6 448.9,210.9 449.4,211.2 450.0,211.5 450.5,211.8 451.0,212.1 451.5,212.5 452.0,212.9 452.4,213.3 452.8,213.7 453.2,214.2 453.6,214.6 453.9,215.1 454.3,215.6 454.6,216.2 454.9,216.7 455.2,217.3 455.5,217.8 455.9,218.4 456.2,219.0 456.5,219.6 456.8,220.2 457.1,220.7 457.3,221.2 457.6,221.7 457.8,222.2 458.1,222.7 458.3,223.3 458.6,223.8 458.8,224.3 459.1,224.9 459.3,225.5 459.6,226.1 459.8,226.7 460.0,227.3 460.3,227.9 460.5,228.6 460.8,229.3 461.0,230.0 461.2,230.5 461.3,231.0 461.5,231.5 461.6,232.1 461.8,232.6 461.9,233.2 462.1,233.7 462.2,234.3 462.4,234.9 462.5,235.5 462.7,236.1 462.8,236.7 463.0,237.3 463.1,237.9 463.3,238.5 463.4,239.2 463.6,239.8 463.7,240.4 463.9,241.1 464.1,241.7 464.2,242.4 464.4,243.0 464.6,243.7 464.8,244.3 465.0,245.0 465.2,245.5 465.3,246.1 465.5,246.7 465.7,247.3 465.9,247.9 466.0,248.5 466.2,249.1 466.4,249.7 466.6,250.4 466.8,251.0 467.0,251.7 467.2,252.3 467.4,253.0 467.6,253.6 467.8,254.3 468.0,254.9 468.2,255.6 468.4,256.2 468.6,256.8 468.8,257.4 469.0,258.0 469.2,258.6 469.4,259.2 469.6,259.7 469.8,260.3 470.0,260.8 470.2,261.3 470.4,261.7 470.6,262.2 470.8,262.6 471.0,263.0 471.5,263.8 471.9,264.6 472.4,265.2 472.8,265.8 473.2,266.2 473.7,266.6 474.1,267.0 474.6,267.3 475.0,267.6 475.5,267.8 476.0,268.0 476.6,268.3 477.1,268.5 477.6,268.7 478.2,268.8 478.8,268.9 479.5,269.0 480.1,269.0 480.8,269.1 481.4,269.1 482.1,269.1 482.7,269.1 483.4,269.1 484.0,269.1 484.6,269.1 485.1,269.2 485.6,269.3 486.3,269.5 486.9,269.6 487.5,269.7 488.0,269.8 488.4,270.0 488.9,270.3 489.4,270.7 489.9,271.4 490.5,272.2 490.7,272.6 490.9,272.9 491.1,273.4 491.4,273.8 491.6,274.3 491.8,274.8 492.1,275.4 492.3,275.9 492.5,276.5 492.8,277.1 493.0,277.7 493.2,278.4 493.5,279.0 493.7,279.6 494.0,280.3 494.2,280.9 494.4,281.6 494.7,282.2 494.9,282.8 495.2,283.4 495.4,284.0 495.6,284.6 495.9,285.2 496.1,285.8 496.4,286.3 496.6,286.8 496.9,287.5 497.2,288.1 497.5,288.8 497.8,289.5 498.1,290.3 498.4,291.0 498.7,291.7 499.0,292.4 499.3,293.1 499.6,293.7 500.0,294.4 500.3,295.0 500.6,295.5 500.9,296.0 501.2,296.5 501.5,296.9 501.8,297.2 502.1,297.5 502.4,297.7 502.7,297.8 503.1,297.8 503.4,297.7 503.7,297.5 504.1,297.1 504.4,296.7 504.7,296.2 505.0,295.7 505.4,295.1 505.7,294.5 506.0,293.6 506.4,293.3 506.7,292.7 507.1,291.6 507.5,290.8 507.9,290.5 508.3,289.8 508.8,290.8 509.2,288.5 509.6,288.1 510.0,288.9 510.5,287.7 510.9,287.4 511.4,286.9 511.9,286.0 512.3,285.4 512.8,285.0 513.3,284.1 513.8,284.3 514.3,282.9 514.8,283.5 515.3,283.2 515.8,282.0 516.3,281.6 516.7,282.1 517.2,281.7 517.7,280.6 518.1,281.2 518.5,280.8 519.1,280.5 519.8,280.0 520.4,280.0 520.9,280.0 521.5,280.4 522.1,280.3 522.6,281.5 523.2,281.6 523.7,281.2 524.2,281.8 524.8,281.9 525.3,282.6 525.9,282.9 526.3,283.1 526.7,283.4 527.1,283.7 527.6,283.3 528.0,285.0 528.4,285.0 528.8,285.4 529.2,286.5 529.6,286.7 530.0,286.9 530.5,287.3 530.9,288.5 531.3,288.5 531.7,289.1 532.1,289.7 532.4,290.5 532.8,291.1 533.2,291.8 533.5,292.1 533.7,292.4 534.0,293.5 534.2,294.1 534.5,293.9 534.7,294.4 535.0,295.6 535.2,295.8 535.5,296.5 535.7,297.1 536.0,297.5 536.2,298.1 536.5,298.9 536.7,299.5 537.0,300.3 537.2,300.1 537.4,300.2 537.6,301.5 537.9,302.0 538.1,302.8 538.3,303.5 538.5,303.8 538.7,304.8 538.9,305.1 539.1,305.7 539.3,306.2 539.5,306.9 539.7,307.5 539.8,308.1 540.0,308.6 540.2,309.2 540.3,309.9 540.5,310.4 540.6,310.9 540.8,311.6 540.9,312.0 541.1,312.9 541.2,313.2 541.3,314.2 541.4,314.8 541.6,315.1 541.7,315.8 541.8,316.7 542.0,316.7 542.1,317.6 542.2,317.5 542.3,318.2 542.5,318.8 542.6,319.6 542.8,319.2 542.9,321.1 543.0,321.0 543.2,321.9 543.3,325.2 543.5,322.9 543.7,322.9 543.8,325.1 544.0,325.8 544.1,326.6 544.3,326.9 544.4,327.0 544.6,328.6 544.7,329.0 544.9,329.8 545.1,329.7 545.2,330.7 545.4,331.6 545.5,331.8 545.7,332.2 545.8,333.5 545.9,332.9 546.1,334.1 546.2,334.8 546.3,334.7 546.5,335.8 546.6,335.1 547.0,336.5 547.3,337.7 547.7,338.8 547.9,338.4 548.3,339.8 548.6,339.1 549.0,338.7 549.3,338.7 549.5,338.7 549.8,338.0 550.1,340.0 550.4,337.7 550.7,337.0 551.0,335.7 551.4,337.2 551.8,335.2 552.2,333.4 552.7,332.6 552.9,333.2 553.2,332.2 553.5,332.3 553.8,332.5 554.1,330.8 554.4,329.9 554.7,329.0 555.1,328.7 555.4,328.0 555.8,327.7 556.1,326.1 556.5,325.9 556.8,324.9 557.1,325.2 557.5,323.4 557.8,323.3 558.2,323.3 558.5,322.2 558.8,322.4 559.1,322.0 559.4,321.7 559.7,320.9 560.0,321.6 560.4,321.2 560.8,321.0 561.2,321.6 561.6,321.3 561.9,324.3 562.3,322.5 562.6,322.7 562.9,324.3 563.2,324.2 563.6,325.6 563.9,325.8 564.2,326.8 564.6,327.3 564.9,328.5 565.2,330.6 565.5,329.5 565.8,328.9 566.1,330.3 566.4,331.0 566.7,331.6 567.0,332.9 567.4,333.0 567.7,333.7 568.0,334.4 568.3,334.8 568.6,337.9 568.9,336.6 569.2,337.0 569.5,337.0 569.8,336.8 570.2,337.4 570.6,336.6 571.0,336.6 571.4,335.9 571.8,337.4 572.2,335.0 572.5,334.3 572.9,333.2 573.3,332.3 573.8,332.1 574.2,330.9 574.6,330.1 575.0,330.3 575.3,329.9 575.7,329.0 576.1,328.5 576.5,327.4 576.9,327.3 577.3,326.1 577.7,326.2 578.1,324.9 578.5,324.7 578.9,324.5 579.3,323.9 579.8,324.2 580.2,324.5 580.6,324.4 581.0,324.8 581.4,324.2 581.9,324.7 582.3,325.7 582.7,326.3 583.2,326.9 583.6,326.9 584.1,327.5 584.5,328.6 585.0,328.6 585.4,329.2 585.9,329.8 586.3,329.9 586.8,332.1 587.3,331.6 587.8,334.9 588.3,332.5 588.8,331.8 589.4,332.5 589.9,334.1 590.4,334.0 591.0,335.7 591.5,333.9 592.0,334.3 592.5,335.2 593.1,335.7 593.6,336.0 594.1,335.8 594.7,336.5 595.4,335.0 596.0,335.2 596.7,334.8 597.4,335.3 598.0,334.2 598.6,334.2 599.2,333.3 599.8,333.6 600.3,333.4 600.7,332.7 601.0,332.7" stroke="#0000ff"/>
<polyline points="52.4,177.8 52.7,177.6 53.0,177.4 53.4,177.2 53.8,177.0 54.2,176.7 54.7,176.4 55.2,176.1 55.7,175.8 56.3,175.4 56.9,175.3 57.4,174.7 58.0,174.3 58.6,174.4 59.3,173.3 59.9,173.1 60.5,172.8 61.1,172.7 61.7,171.9 62.3,171.7 62.9,171.4 63.5,171.3 64.1,170.3 64.6,170.3 65.1,170.7 65.7,169.6 66.2,169.4 66.7,170.7 67.3,169.0 67.8,168.4 68.3,168.4 68.8,168.2 69.4,167.0 69.9,167.0 70.4,166.6 71.0,165.9 71.5,166.1 72.0,166.0 72.6,165.7 73.1,165.4 73.6,165.1 74.1,164.2 74.7,164.3 75.2,163.8 75.7,166.9 76.3,163.5 76.8,163.8 77.4,163.6 78.0,164.2 78.7,163.6 79.3,163.6 80.0,163.8 80.7,163.6 81.3,163.7 82.0,164.6 82.6,166.0 83.3,164.3 83.9,164.9 84.6,164.8 85.2,164.9 85.8,165.8 86.4,165.5 87.0,165.9 87.5,166.3 88.0,168.4 88.5,168.3 89.0,167.0 89.8,167.5 90.6,167.5 91.2,167.5 91.8,167.8 92.3,167.9 92.8,168.7 93.3,168.4 93.8,169.1 94.4,169.5 95.0,169.7 95.5,169.3 96.0,170.5 96.5,170.8 97.1,170.7 97.6,171.0 98.1,171.1 98.7,171.9 99.2,172.6 99.8,172.7 100.3,173.5 100.8,173.4 101.3,174.0 101.7,174.0 102.1,174.2 102.7,174.7 103.2,175.7 103.6,176.6 104.0,176.6 104.4,177.0 104.7,177.6 105.0,178.1 105.4,178.6 105.7,179.1 106.1,178.7 106.5,178.5 106.8,177.8 107.1,177.1 107.4,176.4 107.8,175.7 108.1,175.5 108.6,175.4 109.1,175.5 109.6,175.9 110.1,176.6 110.5,177.9 110.6,178.3 110.7,178.7 110.8,179.2 110.9,179.7 110.9,180.3 111.0,180.8 111.1,181.4 111.2,182.1 111.2,182.7 111.3,183.4 111.4,184.1 111.4,184.7 111.5,185.4 111.6,186.2 111.6,186.9 111.7,187.6 111.8,188.3 111.9,189.0 111.9,189.7 112.0,190.3 112.1,191.0 112.2,191.6 112.3,192.2 112.3,192.8 112.4,193.4 112.5,194.0 112.6,194.6 112.7,195.2 112.7,195.9 112.8,196.5 112.9,197.1 113.0,197.7 113.1,198.3 113.2,199.0 113.2,199.6 113.3,200.2 113.4,200.8 113.5,201.5 113.6,202.1 113.7,202.7 113.7,203.3 113.8,204.0 113.9,204.6 114.0,205.2 114.1,205.8 114.2,206.4 114.2,207.0 114.3,207.5 114.4,208.1 114.5,208.7 114.6,209.3 114.6,209.9 114.7,210.4 114.8,211.0 114.9,211.6 115.0,212.2 115.1,212.8 115.1,213.4 115.2,214.0 115.3,214.6 115.4,215.2 115.5,215.8 115.6,216.4 115.6,217.0 115.7,217.6 115.8,218.2 115.9,218.9 116.0,219.5 116.1,220.1 116.2,220.6 116.2,221.2 116.3,221.8 116.4,222.3 116.5,222.9 116.5,223.5 116.6,224.1 116.7,224.7 116.8,225.3 116.9,225.9 116.9,226.5 117.0,227.1 117.1,227.7 117.2,228.3 117.3,228.9 117.3,229.5 117.4,230.1 117.5,230.7 117.6,231.4 117.7,232.0 117.8,232.6 117.8,233.2 117.9,233.8 118.0,234.4 118.1,235.0 118.2,235.6 118.3,236.2 118.4,236.8 118.5,237.4 118.6,238.0 118.7,238.6 118.8,239.2 118.9,239.9 119.0,240.5 119.1,241.1 119.2,241.7 119.3,242.4 119.4,243.0 119.5,243.6 119.6,244.2 119.7,244.9 119.8,245.5 119.9,246.1 120.0,246.7 120.1,247.3 120.2,247.9 120.3,248.5 120.4,249.1 120.5,249.6 120.6,250.2 120.7,250.8 120.9,251.3 121.0,251.9 121.1,252.4 121.2,252.9 121.4,253.6 121.5,254.3 121.7,255.0 121.9,255.6 122.1,256.3 122.2,256.9 122.4,257.6 122.6,258.2 122.8,258.8 123.0,259.4 123.2,260.0 123.4,260.5 123.5,261.1 123.7,261.6 123.9,262.2 124.1,262.7 124.3,263.2 124.5,263.7 124.6,264.2 124.8,264.9 125.0,265.5 125.3,266.3 125.5,267.3 125.8,267.8 126.0,268.4 126.2,269.4 126.5,270.0 126.7,270.5 126.9,271.0 127.1,271.9 127.3,272.5 127.5,272.9 127.7,272.9 127.9,273.4 128.3,272.7 128.6,272.0 128.8,271.5 129.1,270.4 129.3,269.4 129.5,269.3 129.6,269.9 129.7,270.3 129.7,270.7 129.8,270.9 129.8,271.7 129.9,272.4 130.0,272.5 130.0,273.9 130.2,275.0 130.3,275.2 130.5,276.2 130.7,276.9 130.9,277.1 131.0,277.5 131.2,278.4 131.4,278.9 131.6,279.0 131.8,279.8 132.0,280.1 132.3,280.8 132.5,281.2 132.8,281.9 133.0,282.9 133.3,283.8 133.5,284.0 133.8,284.4 134.0,285.1 134.3,285.5 134.5,286.4 134.8,287.0 135.0,287.2 135.3,287.9 135.5,288.5 135.7,288.9 136.0,289.8 136.2,290.4 136.4,291.2 136.6,292.4 136.9,292.0 137.1,292.2 137.3,292.9 137.6,293.9 137.8,293.9 138.0,294.6 138.3,295.5 138.5,296.1 138.7,296.1 138.9,297.1 139.1,297.7 139.4,298.1 139.6,298.8 139.8,299.1 140.0,300.0 140.2,300.6 140.4,301.0 140.6,301.6 140.7,301.8 140.9,302.6 141.0,303.6 141.2,303.9 141.4,304.7 141.5,305.3 141.6,305.9 141.8,306.2 141.9,307.0 142.1,307.4 142.2,308.1 142.4,308.8 142.6,309.4 142.7,309.9 142.9,310.0 143.0,310.8 143.2,311.7 143.4,311.9 143.6,312.3 143.8,313.0 144.0,314.4 144.2,314.6 144.4,315.0 144.6,315.8 144.8,316.0 145.0,316.6 145.3,316.9 145.5,317.4 145.7,318.6 146.0,318.9 146.2,319.4 146.4,320.0 146.7,320.7 146.9,321.3 147.2,321.6 147.4,322.7 147.7,323.0 147.9,323.7 148.2,324.3 148.4,324.6 148.7,325.2 149.0,325.9 149.2,326.4 149.5,327.0 149.7,327.6 150.0,328.1 150.3,328.7 150.6,329.2 150.8,329.8 151.1,330.4 151.4,330.9 151.7,331.5 152.0,332.0 152.3,332.6 152.6,333.1 152.8,333.7 153.1,334.2 153.4,334.8 153.7,335.3 154.0,335.9 154.3,336.4 154.6,336.9 154.9,337.4 155.2,338.0 155.6,338.5 155.9,339.0 156.2,339.5 156.5,340.0 156.8,340.5 157.1,341.0 157.4,341.5 157.8,342.1 158.1,342.6 158.4,343.1 158.8,343.6 159.1,344.1 159.5,344.6 159.8,345.1 160.1,345.6 160.5,346.1 160.8,346.5 161.2,347.0 161.5,347.5 161.9,348.0 162.3,348.4 162.6,348.9 163.0,349.4 163.4,349.8 163.7,350.3 164.1,350.8 164.5,351.2 164.9,351.7 165.3,352.2 165.7,352.6 166.1,353.1 166.5,353.6 167.0,354.0 167.4,354.5 167.8,355.0 168.3,355.5 168.7,355.9 169.2,356.4 169.6,356.8 170.1,357.3 170.5,357.7 171.0,358.2 171.4,358.6 171.9,359.1 172.4,359.5 172.8,359.9 173.3,360.3 173.7,360.7 174.2,361.1 174.6,361.5 175.1,361.9 175.6,362.4 176.1,362.8 176.7,363.2 177.2,363.6 177.7,363.9 178.2,364.3 178.7,364.7 179.2,365.0 179.8,365.4 180.3,365.7 180.8,366.1 181.3,366.4 181.8,366.7 182.3,367.0 182.9,367.4 183.4,367.7 183.9,368.0 184.4,368.3 184.9,368.6 185.5,368.9 186.1,369.3 186.6,369.6 187.2,369.9 187.8,370.2 188.4,370.5 188.9,370.8 189.5,371.1 190.1,371.4 190.6,371.6 191.2,371.9 191.7,372.1 192.2,372.4 192.7,372.6 193.2,372.8 193.7,373.0 194.1,373.2 194.8,373.5 195.5,373.8 196.1,374.0 196.7,374.2 197.3,374.4 197.8,374.6 198.3,374.7 198.9,374.7 199.4,374.7 200.0,374.7 200.6,374.6 201.1,374.6 201.7,374.4 202.3,374.3 202.8,374.1 203.4,373.8 204.0,373.5 204.6,373.2 205.2,372.7 205.9,372.2 206.3,371.9 206.6,371.5 207.0,371.2 207.4,370.8 207.8,370.4 208.2,370.0 208.6,369.5 209.0,369.0 209.4,368.6 209.8,368.1 210.2,367.6 210.6,367.1 211.0,366.5 211.5,366.0 211.9,365.5 212.3,365.0 212.8,364.4 213.2,363.9 213.7,363.4 214.1,363.0 214.4,362.6 214.8,362.1 215.2,361.7 215.6,361.3 216.0,360.8 216.5,360.3 216.9,359.9 217.3,359.4 217.7,358.9 218.1,358.5 218.6,358.0 219.0,357.5 219.4,357.1 219.8,356.6 220.3,356.2 220.7,355.7 221.1,355.2 221.5,354.8 221.9,354.4 222.3,353.9 222.7,353.5 223.0,353.1 223.4,352.7 223.9,352.2 224.3,351.7 224.8,351.2 225.2,350.7 225.7,350.2 226.1,349.7 226.6,349.2 227.0,348.7 227.4,348.3 227.8,347.8 228.2,347.4 228.6,346.9 229.0,346.5 229.4,346.1 229.8,345.7 230.2,345.3 230.5,344.9 230.9,344.5 231.4,344.0 231.9,343.4 232.3,342.9 232.8,342.4 233.2,341.8 233.6,341.3 234.0,340.9 234.4,340.5 234.9,340.1 235.3,339.8 235.7,339.5 236.2,339.3 236.7,339.2 237.2,339.2 237.8,339.3 238.3,339.6 238.9,339.9 239.5,340.3 240.1,340.7 240.7,341.2 241.3,341.6 241.9,342.0 242.5,342.4 243.0,342.6 243.5,342.8 244.0,342.8 244.6,342.7 245.0,342.5 245.5,342.3 245.9,341.9 246.3,341.5 246.7,341.0 247.1,340.4 247.5,339.7 247.9,339.0 248.4,338.1 248.6,337.7 248.8,337.3 249.1,336.8 249.3,336.3 249.5,335.8 249.8,335.2 250.0,334.7 250.3,334.1 250.5,333.5 250.8,332.8 251.0,332.2 251.3,331.6 251.5,331.0 251.8,330.3 252.0,329.7 252.3,329.1 252.5,328.5 252.8,327.9 253.1,327.3 253.3,326.8 253.6,326.3 253.8,325.8 254.1,325.3 254.3,324.9 254.7,324.2 255.1,323.6 255.6,322.9 256.0,322.3 256.4,321.7 256.9,321.2 257.3,320.7 257.7,320.2 258.1,319.8 258.5,319.5 259.0,319.2 259.3,319.0 259.7,318.8 260.1,318.7 260.6,318.7 261.1,318.8 261.5,319.1 262.0,319.4 262.4,319.9 262.9,320.4 263.3,321.1 263.7,321.8 264.1,322.6 264.5,323.4 264.7,323.8 264.9,324.3 265.1,324.8 265.3,325.4 265.4,326.0 265.6,326.6 265.8,327.3 266.0,327.9 266.2,328.6 266.4,329.3 266.5,330.0 266.7,330.7 266.9,331.3 267.1,332.0 267.2,332.7 267.4,333.3 267.6,333.9 267.7,334.5 267.9,335.0 268.0,335.5 268.2,336.0 268.5,336.8 268.8,337.5 269.1,338.1 269.4,338.6 269.7,339.0 270.0,339.5 270.2,339.9 270.5,340.4 270.8,341.0 271.1,341.7 271.3,342.2 271.5,342.7 271.7,343.3 271.9,343.9 272.1,344.6 272.2,345.2 272.4,345.9 272.6,346.5 272.8,347.2 273.0,347.9 273.2,348.5 273.4,349.1 273.6,349.7 273.8,350.2 273.9,350.7 274.1,351.2 274.5,352.2 274.8,353.0 275.1,353.8 275.4,354.5 275.8,355.0 276.1,355.3 276.5,355.3 276.8,355.2 277.1,354.9 277.5,354.5 277.8,353.9 278.2,353.4 278.5,352.7 278.9,352.0 279.2,351.3 279.6,350.5 279.9,349.8 280.1,349.3 280.3,348.7 280.5,348.1 280.7,347.5 280.9,346.9 281.1,346.2 281.3,345.5 281.5,344.8 281.7,344.2 281.9,343.5 282.1,342.9 282.3,342.4 282.5,341.8 282.6,341.4 282.8,341.0 283.4,339.9 283.9,339.3 284.4,339.1 285.0,339.2 285.3,339.5 285.7,339.9 286.1,340.5 286.5,341.2 286.9,341.9 287.3,342.5 287.7,343.0 288.0,343.2 288.5,343.3 288.9,343.2 289.3,342.8 289.7,342.1 290.2,341.0 290.4,340.6 290.5,340.2 290.7,339.7 290.8,339.1 291.0,338.6 291.1,338.0 291.3,337.3 291.5,336.7 291.6,336.0 291.8,335.3 292.0,334.7 292.2,334.0 292.4,333.3 292.5,332.6 292.7,332.0 292.9,331.3 293.1,330.7 293.3,330.1 293.5,329.6 293.7,329.0 293.8,328.4 294.0,327.8 294.2,327.3 294.4,326.7 294.6,326.1 294.8,325.5 295.0,325.0 295.2,324.4 295.4,323.8 295.6,323.3 295.8,322.7 296.0,322.2 296.3,321.6 296.5,321.0 296.7,320.5 296.9,319.9 297.2,319.3 297.4,318.8 297.6,318.2 297.9,317.6 298.1,317.1 298.4,316.5 298.6,315.9 298.9,315.4 299.1,314.8 299.4,314.3 299.7,313.7 299.9,313.2 300.2,312.6 300.5,312.1 300.8,311.5 301.1,311.0 301.4,310.5 301.7,309.9 302.1,309.4 302.4,308.9 302.8,308.4 303.1,307.9 303.5,307.3 303.9,306.8 304.2,306.3 304.6,305.8 305.0,305.3 305.3,304.8 305.7,304.3 306.0,303.8 306.4,303.2 306.7,302.7 307.0,302.2 307.3,301.6 307.6,301.1 307.9,300.5 308.2,299.9 308.4,299.4 308.7,298.8 308.9,298.2 309.2,297.7 309.4,297.1 309.7,296.5 309.9,296.0 310.2,295.4 310.5,294.9 310.8,294.3 311.1,293.7 311.5,293.2 311.8,292.7 312.2,292.2 312.5,291.8 312.9,291.3 313.3,290.8 313.7,290.3 314.1,289.8 314.5,289.4 314.9,288.9 315.3,288.4 315.7,288.0 316.2,287.5 316.6,287.0 317.0,286.6 317.5,286.1 317.9,285.7 318.4,285.2 318.8,284.8 319.2,284.4 319.7,284.0 320.1,283.6 320.5,283.2 321.0,282.7 321.4,282.3 321.9,281.9 322.3,281.5 322.8,281.1 323.3,280.8 323.7,280.4 324.2,280.0 324.7,279.6 325.1,279.2 325.6,278.9 326.1,278.5 326.6,278.2 327.1,277.8 327.6,277.5 328.1,277.2 328.6,276.9 329.1,276.6 329.7,276.3 330.2,276.1 330.8,275.8 331.3,275.6 331.9,275.4 332.4,275.2 333.0,274.9 333.5,274.7 334.1,274.4 334.6,274.2 335.2,273.9 335.7,273.6 336.3,273.3 336.8,273.0 337.3,272.7 337.8,272.3 338.3,271.9 338.7,271.5 339.2,271.1 339.6,270.7 340.1,270.2 340.5,269.7 341.0,269.2 341.5,268.7 341.9,268.2 342.3,267.7 342.8,267.2 343.2,266.7 343.6,266.2 344.0,265.7 344.4,265.2 344.8,264.7 345.2,264.3 345.6,263.9 345.9,263.5 346.3,263.1 346.6,262.8 347.3,262.2 347.8,261.6 348.3,261.2 348.8,260.8 349.2,260.5 349.6,260.3 350.0,260.0 350.5,259.8 351.0,259.5 351.5,259.2 352.0,259.0 352.6,258.8 353.1,258.5 353.7,258.3 354.3,258.1 354.9,257.9 355.5,257.8 356.2,257.6 356.9,257.5 357.4,257.4 358.0,257.4 358.6,257.4 359.2,257.4 359.8,257.4 360.4,257.4 361.1,257.5 361.7,257.5 362.4,257.5 363.0,257.5 363.7,257.5 364.3,257.4 365.0,257.3 365.6,257.2 366.1,257.1 366.7,256.9 367.3,256.7 367.8,256.5 368.4,256.2 368.9,256.0 369.5,255.7 370.0,255.5 370.6,255.2 371.1,254.9 371.7,254.6 372.2,254.3 372.8,254.1 373.3,253.8 373.9,253.5 374.4,253.3 375.0,253.0 375.6,252.8 376.3,252.5 376.9,252.3 377.6,252.0 378.2,251.8 378.9,251.6 379.5,251.3 380.1,250.9 380.6,250.8 381.2,250.5 381.7,250.2 382.1,250.1 382.5,250.2 383.1,249.1 383.5,248.1 383.8,247.6 384.0,246.8 384.2,246.1 384.3,245.6 384.4,245.3 384.6,244.8 385.4,244.9 385.6,245.3 385.9,245.7 386.3,246.4 386.9,246.7 387.4,247.9 388.0,247.1 388.6,247.1 389.4,247.1 390.1,247.2 390.8,247.1 391.4,247.1 392.0,247.2 392.7,247.3 393.1,247.4 393.6,247.6 394.2,247.8 395.0,248.1 395.5,248.2 396.0,248.4 396.6,248.5 397.2,248.7 397.9,248.9 398.6,249.1 399.3,249.3 400.0,249.5 400.6,249.7 401.2,249.9 401.8,250.2 402.3,250.4 402.9,250.8 403.4,251.2 403.8,251.6 404.2,252.0 404.6,252.5 405.0,252.9 405.4,253.4 406.0,253.9 406.4,254.2 406.8,254.5 407.3,254.8 407.7,255.1 408.2,255.5 408.7,255.8 409.2,256.1 409.7,256.5 410.3,256.8 410.8,257.2 411.4,257.5 412.0,257.9 412.6,258.3 413.1,258.6 413.6,258.9 414.1,259.3 414.6,259.7 415.2,260.1 415.7,260.5 416.3,260.9 416.9,261.3 417.4,261.8 418.0,262.2 418.6,262.5 419.2,262.9 419.7,263.2 420.2,263.5 420.7,263.8 421.2,264.0 421.7,264.1 422.1,264.2 422.8,264.2 423.4,264.0 423.9,263.7 424.4,263.3 424.9,262.8 425.3,262.3 425.7,261.8 426.2,261.3 426.7,260.8 427.2,260.5 427.8,260.2 428.3,260.0 428.9,259.8 429.5,259.6 430.1,259.4 430.7,259.3 431.3,259.2 431.9,259.1 432.5,259.0 433.1,259.0 433.7,259.0 434.4,259.1 435.0,259.2 435.6,259.3 436.2,259.5 436.9,259.7 437.5,260.0 438.2,260.2 438.9,260.5 439.4,260.7 439.9,261.0 440.5,261.2 441.0,261.5 441.6,261.8 442.2,262.1 442.7,262.4 443.3,262.7 443.9,263.0 444.5,263.4 445.1,263.7 445.6,263.9 446.2,264.2 446.8,264.4 447.4,264.7 448.0,264.9 448.6,265.1 449.2,265.3 449.8,265.5 450.4,265.7 451.0,265.9 451.5,266.1 452.1,266.3 452.6,266.6 453.1,266.8 453.6,267.1 454.2,267.4 454.7,267.8 455.1,268.1 455.6,268.4 456.0,268.7 456.4,269.1 456.8,269.5 457.2,270.1 457.6,270.7 458.0,271.5 458.2,271.9 458.4,272.4 458.6,272.8 458.8,273.3 459.0,273.8 459.2,274.4 459.4,275.0 459.6,275.5 459.8,276.1 460.0,276.7 460.3,277.4 460.5,278.0 460.7,278.6 460.9,279.3 461.1,280.0 461.3,280.6 461.5,281.3 461.7,281.9 461.9,282.6 462.1,283.3 462.3,283.9 462.5,284.4 462.6,285.0 462.8,285.6 463.0,286.2 463.2,286.7 463.3,287.3 463.5,287.9 463.7,288.5 463.9,289.1 464.1,289.8 464.2,290.4 464.4,291.0 464.6,291.6 464.8,292.2 464.9,292.8 465.1,293.4 465.3,294.0 465.5,294.6 465.6,295.2 465.8,295.8 466.0,296.4 466.2,297.0 466.3,297.5 466.5,298.1 466.7,298.6 466.9,299.3 467.1,299.9 467.3,300.6 467.6,301.2 467.8,301.9 468.0,302.5 468.2,303.1 468.4,303.7 468.6,304.4 468.8,305.0 469.0,305.5 469.2,306.1 469.4,306.7 469.7,307.3 469.9,307.8 470.1,308.3 470.4,308.9 470.6,309.4 470.8,309.8 471.1,310.3 471.5,310.9 471.9,311.6 472.3,312.2 472.7,312.7 473.1,313.3 473.5,313.8 474.0,314.3 474.4,314.8 474.8,315.2 475.3,315.6 475.7,316.0 476.1,316.3 476.6,316.6 477.0,316.9 477.7,317.2 478.3,317.4 479.0,317.4 479.7,317.4 480.4,317.4 481.0,317.3 481.6,317.2 482.2,317.2 482.8,317.2 483.6,317.3 484.2,317.3 484.9,317.3 485.5,317.4 486.1,317.6 486.8,318.0 487.2,318.3 487.6,318.5 487.9,318.8 488.3,319.1 488.7,319.5 489.1,319.8 489.5,320.3 489.9,320.7 490.4,321.3 490.8,321.9 491.2,322.6 491.7,323.4 491.9,323.8 492.1,324.2 492.4,324.7 492.6,325.2 492.8,325.7 493.1,326.3 493.3,326.8 493.5,327.4 493.8,328.0 494.0,328.6 494.3,329.2 494.5,329.9 494.8,330.5 495.0,331.1 495.2,331.8 495.5,332.4 495.7,333.0 496.0,333.6 496.2,334.3 496.4,334.9 496.7,335.4 496.9,336.0 497.1,336.5 497.4,337.0 497.6,337.5 497.8,338.0 498.1,338.7 498.5,339.5 498.8,340.2 499.1,341.0 499.3,341.7 499.6,342.5 499.9,343.2 500.2,343.8 500.5,344.4 500.7,345.0 501.0,345.5 501.3,345.9 501.6,346.2 502.0,346.4 502.3,346.6 502.7,346.6 503.0,346.5 503.3,346.3 503.7,346.1 504.0,345.8 504.3,345.4 504.7,344.9 505.0,344.4 505.4,343.8 505.8,343.5 506.1,342.4 506.5,342.0 506.9,341.5 507.3,340.9 507.6,340.1 508.0,339.4 508.4,338.3 508.8,338.1 509.2,337.4 509.6,337.2 510.0,337.0 510.5,336.1 511.0,336.0 511.4,334.9 511.9,334.6 512.4,334.1 513.0,334.1 513.5,334.1 514.0,332.8 514.5,332.8 515.0,332.5 515.5,333.5 516.0,331.8 516.6,331.0 517.1,331.1 517.5,331.2 518.0,331.1 518.5,330.3 519.1,330.7 519.7,331.6 520.3,330.8 520.9,330.8 521.4,332.5 522.0,330.3 522.6,331.2 523.1,331.3 523.7,332.0 524.2,331.7 524.8,332.5 525.3,332.6 525.9,333.1 526.2,334.5 526.4,334.2 526.7,334.3 527.0,335.1 527.3,335.4 527.5,335.3 527.8,336.5 528.1,337.1 528.4,337.5 528.6,338.0 528.9,338.3 529.2,338.7 529.5,339.2 529.7,340.5 530.0,340.7 530.3,341.5 530.5,342.5 530.8,342.2 531.1,343.1 531.3,344.0 531.6,344.7 531.9,344.9 532.1,345.9 532.4,348.1 532.7,348.9 532.9,347.2 533.2,347.9 533.4,349.2 533.7,350.9 533.9,349.8 534.2,350.3 534.4,350.9 534.7,351.9 535.0,351.7 535.2,352.7 535.5,353.7 535.7,353.3 536.0,354.4 536.2,355.1 536.5,355.3 536.7,356.2 537.0,356.5 537.2,357.6 537.5,357.5 537.7,359.8 538.0,358.9 538.2,360.3 538.4,360.2 538.6,360.8 538.8,361.0 539.1,361.8 539.3,362.4 539.5,362.8 539.6,363.4 539.8,363.9 540.0,364.4 540.2,365.0 540.4,365.6 540.6,366.2 540.7,366.9 540.9,367.4 541.0,368.2 541.2,368.6 541.3,369.9 541.4,370.0 541.5,370.5 541.6,371.1 541.7,371.4 541.8,372.4 541.9,372.4 542.0,373.0 542.1,373.9 542.2,374.3 542.3,375.3 542.4,375.3 542.5,376.1 542.6,376.4 542.8,375.6 542.9,378.4 543.0,378.4 543.1,378.9 543.3,380.0 543.4,380.7 543.5,381.6 543.6,382.0 543.8,382.7 543.9,382.4 544.0,384.2 544.2,386.7 544.3,384.7 544.4,385.5 544.6,386.5 544.7,386.3 544.8,387.7 545.0,388.0 545.1,388.8 545.2,389.2 545.4,391.8 545.5,390.7 545.6,391.2 545.7,392.0 545.9,392.4 546.0,392.4 546.1,392.6 546.4,393.7 546.7,394.4 547.0,394.9 547.3,395.9 547.6,396.6 547.9,397.5 548.1,397.7 548.4,397.3 548.7,400.7 548.9,397.9 549.2,397.0 549.4,397.4 549.6,395.8 549.8,397.4 550.0,395.3 550.3,393.9 550.5,392.9 550.8,392.7 551.1,391.4 551.4,391.2 551.6,390.5 551.9,390.8 552.2,390.3 552.5,389.1 552.8,388.2 553.1,388.5 553.5,386.9 553.8,386.6 554.2,386.3 554.5,386.2 554.8,385.7 555.2,384.6 555.5,384.0 555.8,383.6 556.1,383.5 556.4,382.4 556.8,381.7 557.1,381.1 557.4,379.7 557.8,379.2 558.1,379.4 558.4,378.8 558.8,377.4 559.1,377.2 559.4,379.2 559.7,376.9 560.0,376.1 560.3,376.3 560.6,376.6 560.9,376.3 561.2,377.1 561.4,377.0 561.7,377.3 562.0,378.5 562.2,378.8 562.5,379.3 562.7,380.5 563.0,381.6 563.3,382.0 563.5,382.6 563.8,383.8 564.0,384.6 564.3,384.4 564.6,385.9 564.8,386.0 565.1,387.0 565.3,387.3 565.6,388.0 565.8,388.8 566.1,388.9 566.3,393.0 566.6,391.5 566.9,392.0 567.1,392.0 567.4,392.3 567.6,392.7 567.9,394.1 568.1,395.7 568.4,394.5 568.7,393.3 569.1,393.5 569.4,393.5 569.8,393.6 570.1,392.3 570.5,392.2 570.8,391.2 571.1,390.6 571.5,390.2 571.8,389.6 572.2,388.7 572.5,387.3 572.8,387.8 573.1,387.3 573.4,386.6 573.7,384.3 574.0,384.7 574.3,384.5 574.6,383.7 574.9,383.0 575.2,383.1 575.5,382.2 575.8,381.7 576.2,381.6 576.5,380.6 576.9,380.0 577.4,378.9 577.9,378.7 578.3,377.9 578.8,377.6 579.3,377.3 579.8,375.9 580.3,376.2 580.7,376.4 581.2,376.0 581.5,375.9 581.8,376.3 582.2,377.2 582.5,377.0 582.8,378.3 583.1,380.0 583.4,379.5 583.7,379.4 584.1,380.5 584.4,382.0 584.7,382.3 585.0,383.2 585.4,383.2 585.7,383.3 586.1,384.2 586.5,385.2 586.9,384.9 587.4,386.2 587.8,386.0 588.2,386.8 588.6,386.6 589.1,388.0 589.5,388.3 589.9,388.2 590.4,388.3 590.8,389.3 591.4,389.5 592.1,389.3 592.7,390.0 593.3,389.8 594.0,389.6 594.6,392.2 595.3,390.1 595.9,389.4 596.5,389.7 597.1,389.8 597.8,389.7 598.4,388.7 599.1,388.2 599.7,388.2 600.2,387.7 600.7,387.3 601.0,387.2" stroke="#ff0000"/>
<polyline points="52.4,295.9 52.8,295.8 53.2,295.7 53.8,295.7 54.4,295.5 55.1,295.4 55.8,295.2 56.5,295.0 57.3,294.3 57.7,294.7 58.2,294.6 58.6,293.5 59.0,292.9 59.4,293.6 59.9,292.5 60.3,292.6 60.8,291.6 61.3,291.2 61.9,291.2 62.5,289.8 63.1,291.0 63.8,289.9 64.6,289.5 65.1,290.2 65.6,292.2 66.1,289.3 66.7,289.5 67.2,289.5 67.8,289.1 68.4,289.3 69.0,288.1 69.7,288.8 70.3,288.2 71.0,290.5 71.6,287.4 72.3,287.3 73.0,288.1 73.6,287.2 74.3,287.3 75.0,287.5 75.6,288.0 76.3,290.0 76.9,287.0 77.5,288.0 78.1,290.3 78.7,287.5 79.3,286.7 80.0,287.4 80.7,287.7 81.3,287.0 82.0,287.7 82.7,287.4 83.4,287.9 84.1,287.5 84.8,287.4 85.4,288.5 86.1,288.5 86.7,288.5 87.4,288.2 88.0,288.3 88.6,289.3 89.1,288.6 89.7,288.9 90.2,288.9 90.6,289.3 91.1,290.2 91.5,289.3 92.6,290.7 93.3,290.2 93.7,289.8 94.0,290.0 94.4,291.3 95.0,290.7 95.5,293.9 96.0,291.3 96.6,291.5 97.1,291.8 97.7,292.2 98.3,295.9 98.9,293.1 99.4,293.0 100.0,294.2 100.5,293.7 101.1,294.7 101.7,293.9 102.2,294.6 102.8,295.8 103.3,295.9 103.8,295.8 104.3,296.9 104.8,296.7 105.3,300.1 105.8,298.3 106.2,298.6 106.6,299.4 107.0,299.5 107.4,299.9 107.9,300.5 108.3,300.4 108.6,301.1 108.9,301.5 109.3,301.8 109.6,302.4 109.9,302.8 110.3,303.3 110.6,303.8 110.9,304.4 111.2,305.1 111.6,305.8 111.9,306.7 112.1,307.1 112.2,307.6 112.4,308.0 112.5,308.5 112.7,309.0 112.8,309.5 113.0,310.0 113.1,310.6 113.3,311.1 113.4,311.7 113.6,312.3 113.7,312.9 113.9,313.5 114.0,314.1 114.2,314.8 114.3,315.4 114.5,316.1 114.6,316.7 114.8,317.4 114.9,318.1 115.1,318.8 115.2,319.5 115.4,320.3 115.5,321.0 115.6,321.5 115.7,322.0 115.8,322.5 115.9,323.1 116.0,323.6 116.0,324.2 116.1,324.7 116.2,325.3 116.3,325.9 116.4,326.5 116.5,327.1 116.6,327.7 116.6,328.3 116.7,328.9 116.8,329.5 116.9,330.2 117.0,330.8 117.1,331.4 117.2,332.0 117.2,332.7 117.3,333.3 117.4,333.9 117.5,334.6 117.6,335.2 117.7,335.8 117.7,336.4 117.8,337.1 117.9,337.7 118.0,338.3 118.1,338.9 118.2,339.5 118.2,340.1 118.3,340.7 118.4,341.3 118.5,341.8 118.6,342.4 118.7,343.0 118.8,343.7 118.9,344.3 119.0,344.9 119.1,345.6 119.2,346.2 119.3,346.8 119.4,347.4 119.5,348.1 119.6,348.7 119.7,349.3 119.8,349.9 119.9,350.5 120.0,351.1 120.1,351.7 120.2,352.3 120.3,352.9 120.4,353.5 120.5,354.1 120.6,354.7 120.7,355.3 120.8,355.9 120.9,356.5 121.0,357.0 121.1,357.6 121.2,358.2 121.3,358.7 121.4,359.3 121.6,359.8 121.7,360.3 121.8,360.9 121.9,361.4 122.1,362.1 122.2,362.8 122.4,363.4 122.5,364.0 122.7,364.7 122.9,365.3 123.0,365.9 123.2,366.5 123.4,367.1 123.6,367.7 123.7,368.2 123.9,368.8 124.1,369.4 124.3,369.9 124.5,370.5 124.6,371.1 124.8,371.6 125.0,372.2 125.2,372.8 125.4,373.4 125.6,373.9 125.8,374.5 126.0,375.0 126.2,375.7 126.4,376.3 126.6,376.8 126.8,377.3 127.0,378.0 127.2,378.5 127.4,379.1 127.6,379.7 127.9,380.6 128.1,382.0 128.3,381.7 128.5,382.4 128.7,383.0 129.0,383.5 129.2,383.9 129.4,384.4 129.6,385.3 129.9,385.8 130.1,386.1 130.3,387.1 130.5,387.4 130.7,388.2 130.9,388.5 131.1,389.1 131.3,389.8 131.5,390.3 131.7,390.6 131.9,391.4 132.2,392.2 132.4,392.6 132.6,393.3 132.9,394.1 133.1,394.8 133.3,395.3 133.5,396.0 133.7,396.7 133.9,397.1 134.1,397.7 134.3,398.0 134.5,398.6 134.7,398.8 134.9,399.8 135.1,400.1 135.3,400.6 135.5,401.6 135.7,401.9 135.9,402.6 136.1,403.4 136.3,403.8 136.5,404.2 136.7,405.1 136.9,405.7 137.1,405.9 137.3,406.4 137.5,406.9 137.7,407.9 137.9,408.0 138.1,408.4 138.3,409.4 138.5,410.0 138.7,410.6 139.0,411.2 139.2,411.6 139.5,412.2 139.7,412.9 140.0,413.2 140.3,413.9 140.5,414.6 140.8,414.9 141.1,415.5 141.3,416.1 141.6,416.6 141.9,417.4 142.2,418.1 142.5,418.3 142.8,418.8 143.1,419.7 143.4,419.5 143.7,420.4 144.1,421.0 144.4,422.2 144.7,422.1 145.1,422.5 145.4,422.7 145.8,423.4 146.3,423.9 146.7,424.2 147.1,424.6 147.6,425.0 148.0,426.2 148.5,425.9 148.9,426.4 149.4,426.5 149.9,427.0 150.4,427.6 150.9,427.8 151.5,427.9 152.0,428.0 152.6,428.6 153.2,428.6 153.7,429.0 154.2,430.0 154.7,429.6 155.3,430.5 155.9,430.2 156.4,430.2 157.0,430.3 157.6,430.7 158.2,430.9 158.8,431.2 159.4,431.4 160.0,431.4 160.6,431.8 161.3,432.0 161.9,432.2 162.5,432.2 163.1,431.7 163.7,432.5 164.3,432.6 164.9,432.5 165.5,432.9 166.1,432.8 166.7,433.0 167.4,433.1 168.0,433.2 168.6,433.4 169.2,433.3 169.8,433.4 170.4,433.3 171.1,433.3 171.7,433.5 172.3,433.6 172.9,433.5 173.5,433.6 174.1,433.3 174.8,433.3 175.4,433.5 176.0,433.1 176.6,433.4 177.2,433.1 177.8,433.3 178.4,433.2 179.1,433.2 179.7,433.1 180.3,433.0 180.9,433.0 181.5,432.9 182.1,432.8 182.8,432.7 183.4,432.6 184.0,432.6 184.6,432.5 185.2,432.3 185.8,432.2 186.5,432.1 187.1,432.0 187.7,431.8 188.3,431.7 188.9,431.6 189.5,431.4 190.1,431.2 190.7,431.1 191.3,430.9 191.9,430.7 192.5,430.5 193.1,430.4 193.7,430.2 194.3,430.0 194.9,429.8 195.5,429.5 196.0,429.3 196.6,429.1 197.2,428.9 197.8,428.7 198.3,428.5 198.9,428.2 199.5,428.0 200.0,427.8 200.6,427.6 201.2,427.3 201.7,427.1 202.3,426.8 202.9,426.6 203.4,426.3 204.0,426.1 204.5,425.8 205.0,425.6 205.6,425.3 206.1,425.1 206.6,424.8 207.1,424.5 207.7,424.2 208.2,423.9 208.7,423.6 209.3,423.2 209.8,422.9 210.3,422.6 210.8,422.3 211.3,421.9 211.7,421.6 212.2,421.2 212.7,420.9 213.2,420.5 213.7,420.1 214.2,419.7 214.7,419.4 215.1,419.0 215.6,418.6 216.1,418.2 216.6,417.7 217.1,417.3 217.6,416.9 218.0,416.5 218.5,416.0 219.0,415.6 219.5,415.1 219.9,414.7 220.3,414.3 220.7,413.9 221.1,413.5 221.5,413.1 221.9,412.7 222.3,412.2 222.8,411.8 223.2,411.4 223.6,410.9 224.0,410.5 224.4,410.0 224.8,409.6 225.2,409.1 225.6,408.6 226.0,408.2 226.4,407.7 226.8,407.2 227.2,406.8 227.7,406.3 228.1,405.8 228.5,405.3 228.9,404.9 229.3,404.4 229.7,404.0 230.1,403.5 230.5,403.0 230.9,402.6 231.2,402.1 231.6,401.6 232.0,401.1 232.4,400.6 232.8,400.1 233.2,399.6 233.6,399.1 234.0,398.6 234.4,398.1 234.8,397.6 235.2,397.1 235.6,396.6 236.0,396.2 236.4,395.7 236.8,395.2 237.1,394.8 237.5,394.3 237.9,393.9 238.2,393.5 238.6,393.1 239.0,392.8 239.3,392.4 239.8,391.9 240.4,391.4 240.9,390.9 241.4,390.4 242.0,390.0 242.5,389.6 243.0,389.2 243.5,388.9 243.9,388.6 244.4,388.2 244.9,387.9 245.3,387.6 245.8,387.3 246.2,387.1 246.6,386.8 247.0,386.5 247.7,386.0 248.3,385.6 248.9,385.1 249.5,384.7 250.1,384.4 250.6,384.1 251.1,383.8 251.6,383.6 252.1,383.5 252.8,383.4 253.4,383.3 254.0,383.3 254.5,383.5 255.1,383.9 255.7,384.6 255.9,385.0 256.2,385.4 256.4,385.8 256.7,386.3 257.0,386.8 257.2,387.4 257.5,387.9 257.7,388.6 258.0,389.2 258.2,389.9 258.5,390.5 258.7,391.2 258.9,391.9 259.2,392.7 259.4,393.4 259.5,393.9 259.7,394.4 259.8,395.0 260.0,395.6 260.1,396.2 260.2,396.8 260.4,397.4 260.5,398.0 260.6,398.6 260.8,399.3 260.9,399.9 261.0,400.6 261.1,401.2 261.3,401.9 261.4,402.5 261.5,403.1 261.7,403.7 261.8,404.3 261.9,404.9 262.0,405.5 262.2,406.1 262.3,406.6 262.5,407.3 262.6,408.0 262.8,408.7 263.0,409.3 263.2,410.0 263.4,410.7 263.5,411.4 263.7,412.0 263.9,412.6 264.1,413.2 264.2,413.8 264.4,414.4 264.6,414.9 264.8,415.4 265.0,415.8 265.1,416.2 265.3,416.6 265.9,417.4 266.4,417.6 267.0,417.6 267.6,417.7 268.2,418.3 268.5,418.7 268.7,419.2 269.0,419.7 269.3,420.3 269.6,420.9 269.9,421.6 270.2,422.3 270.5,422.9 270.8,423.5 271.1,424.1 271.4,424.7 271.6,425.2 271.9,425.6 272.4,426.3 272.9,426.9 273.4,427.4 273.9,427.7 274.3,427.8 274.8,427.8 275.2,427.6 275.6,427.3 276.0,426.9 276.4,426.4 276.8,425.8 277.2,425.0 277.7,424.2 277.9,423.8 278.2,423.3 278.4,422.7 278.7,422.1 278.9,421.5 279.2,420.9 279.4,420.2 279.7,419.6 279.9,418.9 280.2,418.3 280.4,417.6 280.7,417.0 280.9,416.4 281.2,415.9 281.4,415.4 281.8,414.6 282.1,413.9 282.4,413.2 282.7,412.5 283.0,411.9 283.3,411.3 283.6,410.9 283.9,410.5 284.3,410.3 284.8,410.3 285.3,410.5 285.9,410.9 286.5,411.4 287.0,411.9 287.5,412.3 288.0,412.5 288.6,412.7 289.1,412.7 289.6,412.3 290.2,411.0 290.3,410.6 290.4,410.2 290.6,409.7 290.7,409.2 290.8,408.7 290.9,408.1 291.1,407.4 291.2,406.8 291.3,406.1 291.5,405.4 291.6,404.7 291.7,404.0 291.9,403.3 292.0,402.6 292.2,401.9 292.3,401.2 292.4,400.6 292.6,400.0 292.7,399.4 292.8,398.8 293.0,398.3 293.1,397.8 293.3,397.0 293.6,396.4 293.8,395.8 294.0,395.3 294.2,394.8 294.4,394.4 294.6,393.9 294.8,393.5 295.1,393.0 295.4,392.5 295.7,391.9 296.0,391.2 296.2,390.7 296.4,390.3 296.7,389.8 297.0,389.2 297.2,388.7 297.5,388.1 297.8,387.6 298.1,387.0 298.4,386.4 298.7,385.8 299.0,385.2 299.3,384.6 299.6,384.0 299.8,383.4 300.1,382.8 300.4,382.2 300.7,381.6 301.0,381.1 301.2,380.5 301.5,380.0 301.8,379.4 302.1,378.8 302.3,378.2 302.6,377.5 302.9,376.9 303.1,376.3 303.4,375.7 303.7,375.1 303.9,374.5 304.2,374.0 304.4,373.4 304.7,372.9 304.9,372.4 305.2,371.9 305.4,371.4 305.7,370.9 305.9,370.5 306.3,369.8 306.7,369.3 307.1,368.8 307.5,368.3 307.9,367.9 308.3,367.5 308.7,367.1 309.2,366.8 309.6,366.4 310.0,366.0 310.5,365.6 310.9,365.2 311.3,364.8 311.8,364.5 312.2,364.2 312.7,363.8 313.3,363.4 313.9,363.0 314.6,362.5 315.0,362.2 315.5,361.9 315.9,361.6 316.4,361.3 317.0,360.9 317.5,360.6 318.1,360.2 318.6,359.8 319.2,359.5 319.8,359.1 320.3,358.7 320.9,358.3 321.4,358.0 322.0,357.6 322.5,357.3 323.0,356.9 323.4,356.6 324.0,356.1 324.5,355.7 325.0,355.3 325.5,354.8 325.9,354.4 326.4,354.0 326.8,353.5 327.2,353.1 327.7,352.7 328.2,352.3 328.7,351.9 329.3,351.5 329.8,351.2 330.3,350.9 330.8,350.6 331.4,350.4 331.9,350.1 332.5,349.8 333.1,349.5 333.7,349.3 334.3,349.0 334.9,348.7 335.5,348.5 336.0,348.2 336.6,347.9 337.1,347.6 337.6,347.4 338.1,347.1 338.7,346.7 339.2,346.4 339.7,346.0 340.2,345.6 340.7,345.3 341.1,344.9 341.6,344.5 342.0,344.1 342.5,343.8 342.9,343.4 343.4,343.1 343.9,342.7 344.4,342.3 345.0,342.0 345.5,341.6 346.1,341.2 346.7,340.8 347.2,340.4 347.8,340.0 348.4,339.7 348.9,339.4 349.5,339.1 350.0,338.8 350.5,338.6 351.2,338.4 351.9,338.2 352.5,338.1 353.1,338.1 353.7,338.1 354.3,338.2 354.9,338.2 355.6,338.3 356.2,338.4 356.7,338.5 357.3,338.7 357.8,339.0 358.4,339.2 359.0,339.4 359.6,339.6 360.2,339.7 360.8,339.8 361.5,339.8 362.1,339.7 362.6,339.6 363.2,339.4 363.8,339.2 364.4,339.0 365.1,338.8 365.7,338.5 366.3,338.2 366.9,338.0 367.6,337.7 368.2,337.5 368.8,337.3 369.4,337.1 370.0,337.0 370.6,336.8 371.3,336.7 371.9,336.5 372.5,336.4 373.1,336.2 373.7,336.1 374.3,335.9 374.9,335.8 375.5,335.6 376.1,335.4 376.7,335.2 377.3,335.0 377.9,334.7 378.5,334.5 379.1,334.3 379.7,333.9 380.3,333.9 380.9,333.5 381.4,333.1 381.9,333.1 382.3,332.8 382.7,332.5 383.3,332.0 383.7,331.1 384.0,330.4 384.2,329.8 384.4,329.4 384.6,328.9 385.4,329.2 385.7,329.2 386.1,329.6 386.6,330.2 387.2,330.9 387.8,330.9 388.3,330.9 388.9,331.1 389.5,330.9 390.2,330.8 390.9,330.8 391.6,330.7 392.3,330.8 392.8,330.9 393.4,331.0 393.9,331.2 394.5,331.4 395.0,331.6 395.6,331.9 396.2,332.1 396.8,332.3 397.4,332.6 398.0,332.8 398.5,333.0 399.1,333.2 399.6,333.4 400.2,333.6 400.7,333.9 401.3,334.1 401.9,334.3 402.5,334.6 403.1,334.8 403.8,335.1 404.5,335.4 405.0,335.6 405.5,335.8 406.1,336.0 406.6,336.3 407.2,336.5 407.8,336.8 408.4,337.0 409.0,337.3 409.6,337.6 410.2,337.8 410.9,338.1 411.5,338.3 412.1,338.6 412.6,338.8 413.2,339.1 413.8,339.3 414.3,339.5 415.0,339.8 415.6,340.1 416.2,340.4 416.8,340.8 417.4,341.1 418.0,341.5 418.6,341.8 419.1,342.0 419.7,342.2 420.3,342.4 420.9,342.5 421.5,342.5 422.1,342.4 422.6,342.2 423.1,342.0 423.5,341.7 424.0,341.3 424.5,340.8 425.0,340.3 425.4,339.8 425.9,339.3 426.4,338.7 426.9,338.2 427.4,337.7 427.9,337.2 428.4,336.8 428.9,336.5 429.4,336.2 430.0,336.0 430.5,335.9 431.0,335.9 431.5,336.0 432.1,336.1 432.6,336.4 433.2,336.6 433.8,336.9 434.4,337.3 434.9,337.6 435.5,338.0 436.1,338.4 436.7,338.8 437.2,339.3 437.8,339.6 438.3,340.0 438.8,340.3 439.3,340.6 439.8,340.9 440.3,341.1 441.1,341.4 441.8,341.5 442.5,341.6 443.2,341.7 443.9,341.7 444.5,341.7 445.1,341.8 445.7,341.8 446.2,341.9 446.8,342.0 447.4,342.2 448.0,342.4 448.5,342.5 449.0,342.7 449.5,343.0 450.0,343.2 450.5,343.6 451.1,343.9 451.7,344.4 452.1,344.7 452.5,345.0 452.9,345.4 453.3,345.7 453.7,346.1 454.2,346.5 454.6,346.9 455.1,347.4 455.5,347.8 456.0,348.3 456.4,348.8 456.9,349.3 457.3,349.8 457.8,350.3 458.2,350.9 458.5,351.3 458.9,351.8 459.2,352.3 459.5,352.8 459.8,353.3 460.1,353.8 460.5,354.3 460.8,354.9 461.1,355.4 461.4,356.0 461.8,356.6 462.1,357.1 462.4,357.7 462.7,358.3 463.1,358.8 463.4,359.4 463.7,359.9 464.1,360.5 464.4,361.0 464.7,361.5 465.0,362.0 465.4,362.6 465.7,363.1 466.1,363.7 466.4,364.2 466.8,364.8 467.1,365.3 467.4,365.9 467.8,366.4 468.1,367.0 468.5,367.5 468.8,368.0 469.1,368.5 469.5,369.0 469.8,369.5 470.2,369.9 470.5,370.4 470.9,370.8 471.2,371.2 471.7,371.7 472.2,372.3 472.7,372.8 473.2,373.2 473.7,373.7 474.2,374.1 474.6,374.5 475.1,374.8 475.6,375.2 476.1,375.5 476.7,375.7 477.2,375.9 477.7,376.1 478.3,376.2 478.9,376.3 479.5,376.2 480.1,376.2 480.8,376.0 481.4,375.9 482.0,375.7 482.7,375.6 483.3,375.5 483.9,375.3 484.5,375.3 485.0,375.3 485.7,375.3 486.3,375.3 486.9,375.3 487.5,375.3 488.1,375.4 488.6,375.6 489.2,375.9 489.8,376.4 490.5,377.1 490.8,377.4 491.0,377.8 491.3,378.2 491.6,378.7 491.8,379.2 492.1,379.7 492.4,380.3 492.7,380.8 492.9,381.4 493.2,382.0 493.5,382.7 493.8,383.3 494.1,383.9 494.4,384.6 494.7,385.2 495.0,385.8 495.2,386.4 495.5,387.0 495.8,387.6 496.1,388.1 496.4,388.6 496.7,389.1 496.9,389.6 497.2,390.0 497.7,390.7 498.1,391.3 498.6,391.9 499.0,392.5 499.5,393.1 499.9,393.6 500.4,394.1 500.8,394.5 501.3,394.9 501.7,395.2 502.1,395.5 502.6,395.7 503.0,395.8 503.4,395.9 503.9,395.9 504.3,395.7 504.8,395.4 505.2,395.0 505.7,394.6 506.1,394.0 506.5,393.5 507.0,392.9 507.4,392.4 507.9,391.9 508.3,391.4 508.8,391.0 509.3,390.6 509.9,390.1 510.4,389.6 511.0,389.2 511.5,388.7 512.1,388.3 512.7,387.9 513.2,387.6 513.8,387.4 514.3,387.3 514.9,387.3 515.3,387.4 515.8,387.6 516.3,387.8 516.7,388.1 517.2,388.5 517.6,388.8 518.1,389.3 518.6,389.8 519.0,390.3 519.4,390.8 519.9,391.4 520.3,392.1 520.6,392.7 521.0,393.4 521.2,393.8 521.4,394.3 521.6,394.7 521.8,395.2 522.0,395.7 522.1,396.2 522.3,396.7 522.5,397.2 522.6,397.7 522.8,398.3 522.9,398.8 523.1,399.4 523.2,400.0 523.3,400.6 523.5,401.2 523.6,401.9 523.8,402.5 523.9,403.2 524.0,403.9 524.2,404.6 524.3,405.3 524.5,406.0 524.6,406.8 524.7,407.3 524.8,407.8 524.9,408.3 525.0,408.8 525.1,409.4 525.1,409.9 525.2,410.5 525.3,411.0 525.4,411.6 525.5,412.2 525.6,412.8 525.7,413.4 525.8,414.0 525.9,414.6 525.9,415.2 526.0,415.8 526.1,416.5 526.2,417.1 526.3,417.7 526.4,418.4 526.5,419.0 526.5,419.6 526.6,420.3 526.7,420.9 526.8,421.5 526.9,422.2 527.0,422.8 527.1,423.4 527.1,424.1 527.2,424.7 527.3,425.3 527.4,425.9 527.5,426.5 527.6,427.1 527.6,427.7 527.7,428.2 527.8,428.8 527.9,429.5 528.0,430.1 528.1,430.8 528.2,431.5 528.3,432.1 528.4,432.8 528.5,433.5 528.6,434.2 528.7,434.9 528.8,435.6 528.9,436.3 528.9,437.0 529.0,437.7 529.1,438.4 529.2,439.0 529.3,439.7 529.4,440.4 529.5,441.0 529.6,441.6 529.7,442.3 529.8,442.9 529.9,443.5 530.0,444.0 530.0,444.6 530.1,445.1 530.2,445.7 530.3,446.2 530.4,446.6 530.5,447.1 530.5,447.5 530.6,447.9 530.7,448.3 531.0,449.7 531.2,450.8 531.4,451.5 531.7,451.9 531.9,452.1 532.2,452.1 532.7,452.0 533.0,451.9 533.3,451.7 533.7,451.5 534.1,451.2 534.6,450.9 535.0,450.5 535.5,450.0 535.9,449.5 536.4,448.9 536.8,448.3 537.2,447.5 537.6,446.8 538.0,445.9 538.2,445.5 538.3,445.0 538.4,444.6 538.6,444.1 538.7,443.5 538.9,443.0 539.0,442.4 539.1,441.8 539.3,441.2 539.4,440.6 539.5,439.9 539.6,439.3 539.8,438.6 539.9,438.0 540.0,437.3 540.1,436.7 540.2,436.0 540.4,435.3 540.5,434.7 540.6,434.0 540.7,433.4 540.8,432.7 541.0,432.1 541.1,431.5 541.2,430.9 541.3,430.4 541.4,429.8 541.6,429.3 541.7,428.8 541.9,428.1 542.1,427.3 542.3,426.6 542.5,425.9 542.6,425.2 542.8,424.5 543.0,423.9 543.2,423.2 543.4,422.6 543.6,422.0 543.8,421.4 544.0,420.9 544.2,420.3 544.3,419.8 544.5,419.4 544.8,418.9 545.0,418.5 545.2,418.2 545.4,417.8 545.9,417.1 546.5,416.9 547.0,416.9 547.6,416.7 548.2,417.3 548.8,417.0 549.5,416.3 550.2,417.0 550.7,417.5 551.1,416.3 551.7,415.3 552.2,415.6 552.8,416.8 553.3,414.7 553.9,414.8 554.5,414.0 555.0,413.8 555.6,412.7 556.1,413.0 556.7,412.7 557.1,412.3 557.6,411.8 558.0,411.8 558.3,411.2 558.6,410.9 559.0,409.9 559.2,409.0 559.5,409.8 559.8,407.6 560.1,407.1 560.3,407.1 560.6,405.8 560.9,405.7 561.2,404.6 561.5,404.4 561.8,404.4 562.1,404.0 562.4,403.4 563.0,402.5 563.5,401.6 564.1,402.9 564.7,401.4 565.4,401.5 566.0,401.5 566.6,401.1 567.3,400.9 567.9,401.8 568.5,403.6 569.0,401.8 569.5,402.7 570.1,403.1 570.6,402.4 571.1,403.7 571.6,404.0 572.1,404.2 572.7,404.8 573.2,405.2 573.7,405.8 574.1,405.7 574.6,406.6 574.9,408.3 575.2,407.5 575.5,409.9 575.8,408.8 576.1,408.7 576.4,409.3 576.6,410.1 576.9,409.8 577.2,412.5 577.5,410.5 577.7,411.1 578.0,412.1 578.3,412.6 578.5,412.7 578.8,413.8 579.0,415.2 579.3,415.5 579.5,416.9 579.6,417.5 579.7,417.8 579.8,418.5 579.9,418.7 580.0,418.9 580.1,419.3 580.2,421.5 580.3,420.5 580.4,421.9 580.4,422.5 580.5,423.1 580.6,423.4 580.7,423.8 580.8,425.0 580.9,425.9 581.0,429.0 581.1,426.4 581.1,428.0 581.2,428.3 581.3,428.9 581.4,429.3 581.5,430.7 581.6,430.7 581.6,432.1 581.7,432.1 581.8,433.2 581.9,433.6 582.0,435.1 582.0,434.9 582.1,436.1 582.2,436.4 582.3,436.8 582.4,438.2 582.5,438.3 582.5,440.6 582.6,439.1 582.7,439.3 582.8,440.2 582.9,440.8 582.9,441.6 583.0,442.5 583.1,442.0 583.2,441.7 583.9,443.8 584.6,443.7 585.3,443.0 586.0,442.2 586.8,441.7 587.3,442.9 587.8,443.0 588.3,442.1 588.9,443.7 589.5,443.9 590.0,443.7 590.6,446.0 591.1,445.8 591.7,445.3 592.1,445.3 592.4,444.5 592.8,444.1 593.1,444.2 593.5,443.1 593.8,442.0 594.2,442.1 594.5,440.8 594.9,440.2 595.2,439.9 595.6,439.8 595.9,438.4 596.3,438.2 596.6,438.5 597.1,438.9 597.7,438.4 598.3,439.5 598.8,439.9 599.4,440.0 599.9,441.0 600.3,441.4 600.7,442.0 601.0,442.2" stroke="#008000"/>
<polyline points="52.4,321.5 52.7,321.3 53.0,321.1 53.5,320.9 53.9,320.6 54.4,320.3 54.9,320.0 55.5,319.7 56.1,319.3 56.7,318.9 57.3,318.5 57.9,318.2 58.6,318.0 59.2,317.1 59.8,316.1 60.2,315.9 60.6,315.8 61.0,316.0 61.4,315.5 61.8,314.1 62.3,314.4 62.7,313.4 63.2,313.5 63.6,313.0 64.0,311.7 64.5,311.6 65.0,311.0 65.4,310.3 65.9,311.0 66.3,309.1 66.8,308.8 67.2,308.8 67.7,307.7 68.2,308.3 68.6,306.9 69.1,307.2 69.5,307.3 70.1,306.7 70.7,305.9 71.3,306.1 71.8,305.6 72.4,305.7 73.0,305.6 73.5,305.7 74.1,307.4 74.7,305.0 75.3,304.8 75.9,305.2 76.5,305.5 77.2,305.5 77.8,305.0 78.6,305.1 79.3,305.5 79.8,305.9 80.3,306.0 80.9,305.6 81.5,306.3 82.0,306.0 82.7,306.1 83.3,308.5 83.9,306.1 84.6,307.5 85.2,306.4 85.9,306.6 86.5,307.0 87.2,307.7 87.8,307.2 88.4,307.3 89.1,308.1 89.7,308.3 90.3,307.6 90.9,308.3 91.4,308.2 92.0,308.3 92.5,308.3 93.0,309.1 93.5,309.0 93.9,309.5 94.8,309.9 95.5,309.4 96.2,309.7 96.7,310.0 97.3,310.9 97.7,310.5 98.1,311.5 98.6,313.0 99.0,311.9 99.5,312.5 100.0,312.2 100.4,313.6 100.7,313.7 101.1,313.9 101.4,314.5 101.8,314.8 102.2,314.7 102.5,316.1 102.9,315.9 103.3,316.6 103.6,316.7 104.0,319.4 104.3,320.3 104.7,319.2 105.0,319.8 105.4,319.6 105.7,320.1 106.0,320.9 106.3,321.8 106.6,322.1 106.9,322.7 107.2,323.2 107.5,323.7 107.8,324.2 108.1,324.7 108.4,325.3 108.7,325.8 109.0,326.4 109.3,326.9 109.5,327.5 109.8,328.1 110.0,328.7 110.3,329.3 110.5,329.9 110.7,330.5 110.9,331.0 111.0,331.6 111.2,332.1 111.3,332.6 111.5,333.1 111.6,333.7 111.7,334.2 111.8,334.7 111.9,335.3 112.0,335.9 112.1,336.4 112.3,337.0 112.4,337.6 112.5,338.2 112.6,338.9 112.7,339.5 112.8,340.2 112.9,340.9 113.0,341.6 113.1,342.4 113.2,342.9 113.3,343.4 113.3,344.0 113.4,344.5 113.5,345.1 113.6,345.6 113.6,346.2 113.7,346.8 113.8,347.4 113.9,348.0 114.0,348.6 114.0,349.2 114.1,349.9 114.2,350.5 114.3,351.1 114.3,351.8 114.4,352.4 114.5,353.1 114.6,353.7 114.6,354.4 114.7,355.0 114.8,355.7 114.9,356.3 115.0,357.0 115.0,357.6 115.1,358.3 115.2,358.9 115.3,359.5 115.3,360.2 115.4,360.8 115.5,361.4 115.6,362.0 115.7,362.6 115.7,363.2 115.8,363.8 115.9,364.4 116.0,365.0 116.0,365.6 116.1,366.2 116.2,366.8 116.3,367.4 116.3,368.1 116.4,368.7 116.5,369.3 116.6,369.9 116.6,370.5 116.7,371.1 116.8,371.7 116.9,372.3 116.9,372.9 117.0,373.5 117.1,374.1 117.2,374.7 117.2,375.3 117.3,375.9 117.4,376.5 117.5,377.1 117.5,377.7 117.6,378.2 117.7,378.8 117.8,379.4 117.8,379.9 117.9,380.5 118.0,381.2 118.1,381.8 118.2,382.4 118.2,383.0 118.3,383.7 118.4,384.3 118.5,384.9 118.5,385.5 118.6,386.0 118.7,386.6 118.8,387.2 118.9,387.8 118.9,388.4 119.0,388.9 119.1,389.5 119.2,390.1 119.3,390.7 119.3,391.3 119.4,391.9 119.5,392.5 119.6,393.1 119.7,393.8 119.8,394.4 119.9,395.1 120.0,395.7 120.1,396.4 120.2,397.1 120.3,397.6 120.4,398.2 120.5,398.7 120.5,399.3 120.6,399.9 120.7,400.4 120.8,401.0 120.9,401.6 121.0,402.2 121.1,402.8 121.2,403.4 121.3,404.0 121.4,404.6 121.5,405.2 121.6,405.8 121.7,406.5 121.8,407.1 121.9,407.7 122.0,408.3 122.1,408.9 122.2,409.6 122.3,410.2 122.4,410.8 122.6,411.4 122.7,412.1 122.8,412.7 122.9,413.3 123.0,413.9 123.1,414.5 123.2,415.1 123.3,415.7 123.4,416.3 123.5,416.9 123.6,417.5 123.7,418.0 123.8,418.6 123.9,419.2 124.0,419.9 124.1,420.5 124.3,421.2 124.4,421.8 124.5,422.4 124.6,423.1 124.7,423.7 124.8,424.4 125.0,425.0 125.1,425.6 125.2,426.3 125.3,426.9 125.4,427.6 125.6,428.2 125.7,428.8 125.8,429.4 125.9,430.0 126.0,430.5 126.1,431.1 126.3,431.4 126.4,432.4 126.5,433.0 126.6,433.5 126.7,433.9 126.8,434.4 126.9,435.2 127.0,435.8 127.1,436.3 127.2,436.5 127.3,437.1 127.4,437.7 127.6,438.4 127.7,439.0 127.9,439.8 128.0,440.7 128.1,441.2 128.2,441.6 128.4,442.6 128.5,442.9 128.6,443.2 128.7,443.7 128.8,444.5 128.9,444.7 129.1,445.6 129.2,445.8 129.3,446.3 129.5,446.9 129.6,447.8 129.8,448.4 130.0,449.1 130.1,449.3 130.3,449.8 130.5,450.6 130.7,450.7 130.9,451.5 131.0,451.7 131.2,452.2 131.4,452.6 131.6,453.7 131.8,454.0 132.1,454.4 132.3,455.0 132.5,455.7 132.7,456.1 133.0,457.3 133.2,458.1 133.4,458.8 133.7,459.0 133.8,459.7 133.9,460.1 134.1,460.6 134.2,461.2 134.3,462.1 134.5,462.3 134.6,463.2 134.7,463.2 134.9,464.1 135.0,464.3 135.2,465.2 135.3,465.9 135.4,466.5 135.6,466.7 135.7,467.3 135.9,467.9 136.0,469.1 136.2,469.5 136.3,469.9 136.5,470.7 136.6,471.1 136.8,471.7 136.9,472.6 137.1,473.1 137.2,474.1 137.4,474.4 137.5,475.3 137.7,475.9 137.8,476.5 138.0,476.7 138.2,477.7 138.3,478.2 138.5,478.8 138.6,479.6 138.8,480.1 138.9,480.9 139.1,481.3 139.2,482.5 139.4,482.4 139.5,483.1 139.7,483.6 139.9,484.7 140.0,484.8 140.2,485.3 140.4,486.2 140.6,487.0 140.7,487.3 140.9,487.7 141.1,488.3 141.3,489.0 141.4,489.7 141.6,490.3 141.8,490.3 141.9,492.2 142.1,492.3 142.3,492.6 142.5,493.3 142.7,493.9 142.8,494.9 143.0,494.8 143.2,495.5 143.4,496.7 143.5,496.9 143.7,497.6 143.9,498.0 144.1,498.8 144.3,499.1 144.5,499.6 144.6,500.3 144.8,500.9 145.0,501.4 145.2,501.7 145.4,502.2 145.6,503.1 145.9,503.6 146.1,504.2 146.4,505.1 146.6,505.4 146.9,506.4 147.1,506.6 147.4,507.5 147.6,508.3 147.9,508.5 148.1,509.4 148.4,510.1 148.6,510.3 148.9,511.1 149.1,511.8 149.4,512.1 149.7,512.6 149.9,513.0 150.2,513.7 150.5,514.2 150.8,514.5 151.0,515.4 151.3,515.6 151.6,515.9 151.9,516.4 152.2,517.4 152.6,517.7 153.0,518.3 153.4,519.0 153.8,520.1 154.2,519.8 154.6,520.5 155.0,520.9 155.4,522.3 155.9,521.5 156.3,522.0 156.7,522.8 157.2,523.3 157.6,523.7 158.1,523.9 158.5,523.9 159.0,524.4 159.5,525.2 160.0,525.1 160.5,525.4 161.0,525.7 161.5,526.0 162.1,526.7 162.6,526.3 163.2,527.0 163.7,527.2 164.3,527.6 164.9,527.8 165.5,528.2 166.1,528.3 166.7,528.4 167.3,528.8 167.9,528.8 168.5,529.3 169.1,529.4 169.7,529.6 170.3,529.2 170.9,529.3 171.5,529.9 172.1,529.7 172.7,529.5 173.3,529.7 173.9,529.8 174.5,530.2 175.1,529.8 175.7,530.0 176.3,530.0 176.9,529.6 177.5,529.6 178.1,529.5 178.7,529.3 179.3,529.4 179.9,529.4 180.6,529.2 181.2,528.9 181.8,529.1 182.4,528.6 183.1,528.3 183.7,528.3 184.4,528.1 184.9,527.9 185.5,529.0 186.0,527.8 186.6,527.4 187.1,527.1 187.7,527.2 188.3,526.6 188.9,527.5 189.4,526.2 190.0,526.3 190.6,525.8 191.2,525.9 191.8,525.5 192.4,525.3 192.9,524.7 193.5,524.7 194.1,524.1 194.7,523.8 195.3,523.5 195.8,523.0 196.4,522.7 196.9,522.8 197.5,522.2 198.0,521.4 198.5,521.7 199.0,521.4 199.6,521.2 200.1,520.8 200.6,520.5 201.1,520.2 201.6,519.9 202.1,519.5 202.6,519.2 203.0,518.9 203.5,518.6 204.0,518.2 204.5,517.9 205.0,517.6 205.5,517.2 205.9,516.8 206.4,516.4 206.9,516.0 207.4,515.6 207.9,515.1 208.3,514.7 208.8,514.2 209.3,513.7 209.8,513.2 210.2,512.8 210.5,512.4 210.9,512.0 211.2,511.5 211.6,511.1 212.0,510.6 212.3,510.2 212.7,509.7 213.1,509.2 213.4,508.7 213.8,508.2 214.1,507.7 214.5,507.2 214.9,506.7 215.2,506.1 215.6,505.6 216.0,505.1 216.3,504.5 216.7,504.0 217.0,503.4 217.4,502.9 217.8,502.3 218.1,501.8 218.5,501.3 218.8,500.7 219.2,500.2 219.5,499.7 219.8,499.1 220.2,498.6 220.5,498.1 220.8,497.6 221.2,497.1 221.5,496.6 221.9,496.1 222.2,495.5 222.6,495.0 222.9,494.4 223.2,493.9 223.6,493.4 223.9,492.8 224.3,492.3 224.6,491.8 224.9,491.2 225.3,490.7 225.6,490.2 225.9,489.6 226.2,489.1 226.6,488.6 226.9,488.0 227.2,487.5 227.5,487.0 227.8,486.5 228.1,486.0 228.5,485.5 228.8,484.9 229.1,484.4 229.4,483.9 229.7,483.4 230.0,482.9 230.3,482.5 230.6,482.0 230.9,481.5 231.2,481.0 231.6,480.4 231.9,479.9 232.3,479.3 232.6,478.8 232.9,478.2 233.3,477.7 233.6,477.2 233.9,476.6 234.3,476.1 234.6,475.6 234.9,475.1 235.2,474.6 235.6,474.0 235.9,473.5 236.2,473.0 236.5,472.5 236.8,472.0 237.2,471.5 237.5,471.0 237.8,470.5 238.1,470.0 238.5,469.5 238.8,469.0 239.2,468.5 239.5,468.0 239.8,467.5 240.2,467.0 240.6,466.5 240.9,465.9 241.3,465.4 241.6,464.9 242.0,464.3 242.4,463.8 242.8,463.3 243.1,462.8 243.5,462.2 243.9,461.7 244.2,461.2 244.6,460.7 245.0,460.2 245.3,459.7 245.7,459.2 246.1,458.7 246.4,458.2 246.8,457.7 247.1,457.3 247.5,456.8 247.8,456.4 248.2,456.0 248.5,455.6 249.0,455.0 249.5,454.4 249.9,453.9 250.4,453.3 250.9,452.7 251.3,452.2 251.8,451.7 252.2,451.2 252.7,450.7 253.1,450.3 253.5,449.9 254.0,449.5 254.4,449.2 254.8,448.9 255.2,448.6 255.5,448.4 255.9,448.3 256.5,448.2 257.0,448.2 257.6,448.3 258.1,448.5 258.5,448.8 259.0,449.2 259.4,449.7 259.9,450.4 260.3,451.1 260.7,452.0 260.9,452.4 261.0,452.8 261.2,453.2 261.4,453.6 261.5,454.0 261.7,454.5 261.8,455.0 262.0,455.4 262.1,455.9 262.3,456.5 262.4,457.0 262.6,457.6 262.7,458.1 262.8,458.7 263.0,459.4 263.1,460.0 263.3,460.6 263.4,461.3 263.5,462.0 263.7,462.7 263.8,463.5 264.0,464.2 264.1,465.0 264.3,465.8 264.4,466.6 264.5,467.1 264.6,467.5 264.6,468.0 264.7,468.5 264.8,469.1 264.9,469.6 265.0,470.1 265.1,470.7 265.1,471.3 265.2,471.8 265.3,472.4 265.4,473.0 265.5,473.6 265.5,474.2 265.6,474.8 265.7,475.4 265.8,476.0 265.9,476.7 265.9,477.3 266.0,477.9 266.1,478.6 266.2,479.2 266.3,479.9 266.4,480.5 266.4,481.1 266.5,481.8 266.6,482.4 266.7,483.1 266.8,483.7 266.8,484.4 266.9,485.0 267.0,485.6 267.1,486.3 267.2,486.9 267.2,487.5 267.3,488.2 267.4,488.8 267.5,489.4 267.5,490.0 267.6,490.6 267.7,491.2 267.8,491.7 267.8,492.3 267.9,492.9 268.0,493.4 268.1,494.1 268.2,494.7 268.3,495.4 268.4,496.1 268.5,496.8 268.6,497.4 268.6,498.1 268.7,498.8 268.8,499.5 268.9,500.1 269.0,500.8 269.1,501.5 269.2,502.2 269.3,502.8 269.4,503.5 269.5,504.2 269.6,504.8 269.6,505.5 269.7,506.1 269.8,506.7 269.9,507.3 270.0,507.9 270.1,508.5 270.2,509.1 270.3,509.7 270.3,510.3 270.4,510.8 270.5,511.4 270.6,511.9 270.7,512.4 270.7,512.9 270.8,513.3 270.9,513.8 271.0,514.2 271.1,514.6 271.1,515.0 271.2,515.4 271.5,516.9 271.8,518.1 272.0,518.9 272.2,519.6 272.5,520.0 272.7,520.2 273.0,520.2 273.4,520.2 273.7,520.1 274.0,519.9 274.4,519.6 274.7,519.2 275.1,518.8 275.5,518.3 275.9,517.7 276.3,517.1 276.7,516.4 277.1,515.7 277.5,514.9 277.8,514.1 278.0,513.7 278.2,513.2 278.3,512.7 278.5,512.2 278.7,511.6 278.8,511.0 279.0,510.4 279.2,509.8 279.4,509.2 279.5,508.6 279.7,507.9 279.9,507.3 280.0,506.7 280.2,506.0 280.3,505.4 280.5,504.7 280.6,504.1 280.8,503.5 280.9,502.9 281.1,502.3 281.2,501.8 281.4,501.2 281.5,500.7 281.7,500.0 281.9,499.2 282.0,498.4 282.2,497.6 282.3,496.9 282.4,496.1 282.6,495.3 282.7,494.6 282.8,494.0 283.0,493.3 283.1,492.7 283.2,492.2 283.4,491.8 283.5,491.4 283.7,491.2 283.9,491.0 284.2,491.0 284.5,491.3 284.9,491.8 285.2,492.5 285.6,493.3 285.9,494.1 286.3,494.9 286.6,495.7 287.0,496.4 287.3,496.9 287.6,497.1 288.0,497.2 288.3,497.3 288.6,497.2 288.9,496.8 289.2,496.1 289.5,495.0 290.0,493.4 290.1,493.0 290.2,492.7 290.3,492.2 290.4,491.8 290.5,491.3 290.7,490.9 290.8,490.4 290.9,489.8 291.0,489.3 291.1,488.7 291.3,488.2 291.4,487.6 291.5,487.0 291.7,486.3 291.8,485.7 291.9,485.1 292.1,484.4 292.2,483.8 292.4,483.1 292.5,482.4 292.6,481.8 292.8,481.1 292.9,480.4 293.1,479.7 293.2,479.1 293.4,478.4 293.5,477.7 293.7,477.1 293.8,476.4 293.9,475.8 294.1,475.1 294.2,474.5 294.4,473.9 294.5,473.2 294.6,472.7 294.8,472.1 294.9,471.5 295.0,470.9 295.2,470.2 295.3,469.6 295.5,469.0 295.6,468.4 295.8,467.7 295.9,467.1 296.1,466.5 296.2,465.9 296.4,465.3 296.5,464.6 296.7,464.0 296.8,463.4 297.0,462.8 297.1,462.2 297.3,461.6 297.4,461.0 297.6,460.4 297.7,459.8 297.9,459.2 298.0,458.6 298.2,458.1 298.3,457.5 298.5,456.9 298.6,456.3 298.8,455.8 298.9,455.2 299.1,454.7 299.2,454.1 299.4,453.6 299.5,453.0 299.7,452.5 299.8,452.0 300.0,451.3 300.2,450.6 300.4,450.0 300.6,449.3 300.8,448.6 301.0,448.0 301.2,447.3 301.4,446.7 301.6,446.0 301.8,445.4 302.0,444.8 302.2,444.2 302.4,443.6 302.6,443.0 302.8,442.4 303.0,441.8 303.1,441.3 303.3,440.7 303.5,440.2 303.7,439.7 303.9,439.2 304.1,438.7 304.3,438.2 304.4,437.7 304.6,437.3 304.9,436.5 305.2,435.8 305.5,435.2 305.7,434.7 306.0,434.2 306.2,433.7 306.5,433.3 306.8,432.9 307.0,432.4 307.3,431.9 307.6,431.3 307.9,430.7 308.3,430.0 308.5,429.5 308.7,429.1 309.0,428.6 309.2,428.0 309.4,427.5 309.7,426.9 309.9,426.3 310.1,425.7 310.4,425.1 310.7,424.5 310.9,423.9 311.2,423.3 311.5,422.7 311.7,422.0 312.0,421.4 312.3,420.9 312.6,420.3 312.9,419.7 313.2,419.2 313.5,418.7 313.8,418.2 314.1,417.7 314.4,417.3 314.8,416.8 315.3,416.3 315.8,415.9 316.2,415.5 316.7,415.2 317.2,414.9 317.7,414.6 318.2,414.3 318.8,414.0 319.3,413.7 319.8,413.4 320.3,413.2 320.8,412.8 321.4,412.5 321.9,412.1 322.4,411.7 322.9,411.2 323.3,410.8 323.6,410.4 324.0,410.0 324.4,409.5 324.8,409.1 325.1,408.6 325.5,408.1 325.9,407.6 326.3,407.1 326.6,406.6 327.0,406.0 327.4,405.5 327.8,405.0 328.2,404.5 328.5,404.0 328.9,403.4 329.3,402.9 329.6,402.4 330.0,402.0 330.4,401.5 330.8,401.0 331.1,400.6 331.5,400.2 332.0,399.7 332.4,399.2 332.9,398.8 333.3,398.4 333.8,398.0 334.2,397.6 334.7,397.2 335.1,396.8 335.6,396.5 336.0,396.1 336.5,395.7 336.9,395.4 337.4,395.0 337.9,394.6 338.3,394.1 338.8,393.7 339.3,393.2 339.8,392.7 340.2,392.3 340.5,391.9 340.9,391.4 341.3,390.9 341.6,390.4 342.0,389.9 342.4,389.4 342.8,388.8 343.2,388.3 343.6,387.7 344.0,387.2 344.4,386.6 344.8,386.1 345.1,385.5 345.5,385.0 345.9,384.5 346.3,384.0 346.7,383.5 347.1,383.1 347.5,382.7 347.9,382.3 348.3,382.0 348.7,381.7 349.1,381.4 349.5,381.2 350.1,381.0 350.7,380.9 351.3,380.8 351.9,380.9 352.6,381.0 353.2,381.2 353.8,381.5 354.4,381.8 355.0,382.1 355.6,382.3 356.2,382.6 356.9,382.9 357.5,383.1 358.1,383.3 358.7,383.4 359.3,383.4 359.9,383.4 360.5,383.3 361.1,383.2 361.7,383.0 362.3,382.9 362.9,382.7 363.5,382.5 364.1,382.3 364.8,382.0 365.4,381.8 366.0,381.6 366.6,381.3 367.2,381.1 367.8,380.9 368.4,380.7 369.0,380.5 369.6,380.3 370.1,380.2 370.7,380.0 371.3,379.9 371.9,379.7 372.5,379.6 373.0,379.4 373.6,379.3 374.2,379.1 374.8,379.0 375.3,378.8 375.9,378.6 376.5,378.5 377.1,378.3 377.7,378.1 378.2,377.8 378.8,377.6 379.3,377.4 379.9,377.1 380.4,376.8 381.0,376.4 381.6,376.1 382.1,375.7 382.7,375.4 383.2,375.0 383.8,374.7 384.4,374.3 384.9,374.0 385.4,373.6 386.0,373.3 386.5,373.0 387.0,372.8 387.5,372.5 388.0,372.3 388.5,372.2 389.2,372.0 389.9,371.9 390.5,371.9 391.1,371.9 391.8,371.9 392.4,372.0 392.9,372.1 393.5,372.3 394.1,372.4 394.7,372.7 395.3,372.9 395.9,373.2 396.4,373.5 396.9,373.8 397.3,374.1 397.8,374.5 398.3,374.9 398.7,375.3 399.2,375.8 399.6,376.2 400.1,376.7 400.6,377.2 401.1,377.6 401.6,378.1 402.1,378.5 402.6,378.9 403.2,379.3 403.7,379.6 404.2,379.9 404.7,380.1 405.2,380.4 405.7,380.6 406.3,380.9 406.8,381.1 407.3,381.3 407.9,381.5 408.5,381.8 409.0,382.0 409.6,382.3 410.1,382.5 410.7,382.8 411.2,383.1 411.8,383.4 412.4,383.7 412.9,384.1 413.4,384.4 413.8,384.9 414.3,385.3 414.8,385.8 415.2,386.3 415.7,386.9 416.2,387.4 416.6,388.0 417.1,388.6 417.6,389.1 418.0,389.7 418.5,390.2 419.0,390.7 419.4,391.2 419.9,391.6 420.4,392.0 420.8,392.3 421.3,392.5 421.8,392.6 422.2,392.7 422.7,392.7 423.1,392.6 423.5,392.4 423.9,392.1 424.3,391.8 424.7,391.4 425.1,391.0 425.5,390.5 425.9,389.9 426.3,389.3 426.7,388.7 427.1,388.1 427.5,387.5 427.9,386.8 428.3,386.2 428.7,385.5 429.1,384.9 429.5,384.3 429.9,383.8 430.2,383.2 430.6,382.7 431.0,382.3 431.3,381.9 431.7,381.6 432.1,381.4 432.4,381.2 433.0,381.1 433.5,381.1 434.0,381.2 434.5,381.4 435.0,381.8 435.4,382.2 435.9,382.6 436.3,383.1 436.8,383.7 437.2,384.2 437.7,384.8 438.2,385.3 438.7,385.8 439.2,386.2 439.8,386.6 440.3,386.9 440.8,387.1 441.3,387.4 441.8,387.7 442.4,387.9 443.0,388.1 443.5,388.4 444.1,388.6 444.7,388.9 445.2,389.1 445.8,389.4 446.4,389.6 446.9,389.9 447.5,390.2 448.0,390.5 448.5,390.8 449.0,391.1 449.5,391.5 450.0,391.9 450.4,392.3 450.9,392.7 451.4,393.2 451.8,393.6 452.3,394.1 452.7,394.6 453.1,395.1 453.6,395.6 454.0,396.1 454.4,396.6 454.8,397.1 455.1,397.6 455.5,398.1 455.8,398.6 456.2,399.1 456.5,399.5 456.8,400.0 457.2,400.6 457.5,401.1 457.8,401.7 458.0,402.2 458.2,402.7 458.4,403.3 458.6,403.8 458.8,404.3 459.0,404.9 459.2,405.4 459.4,406.0 459.6,406.7 459.8,407.3 460.0,408.0 460.2,408.5 460.3,409.0 460.5,409.5 460.7,410.1 460.8,410.6 461.0,411.2 461.2,411.7 461.3,412.3 461.5,412.9 461.7,413.5 461.9,414.1 462.0,414.7 462.2,415.3 462.4,415.9 462.6,416.6 462.7,417.2 462.9,417.9 463.1,418.6 463.3,419.3 463.5,420.0 463.6,420.5 463.8,421.1 463.9,421.6 464.1,422.2 464.2,422.8 464.4,423.3 464.5,423.9 464.7,424.6 464.8,425.2 465.0,425.8 465.1,426.4 465.3,427.0 465.4,427.7 465.6,428.3 465.8,429.0 465.9,429.6 466.1,430.2 466.2,430.8 466.4,431.5 466.5,432.1 466.7,432.7 466.9,433.3 467.0,433.9 467.2,434.4 467.3,435.0 467.5,435.6 467.6,436.1 467.8,436.6 468.0,437.3 468.2,438.0 468.4,438.6 468.6,439.3 468.9,439.9 469.1,440.5 469.3,441.1 469.5,441.7 469.7,442.3 469.9,442.9 470.1,443.4 470.3,444.0 470.5,444.5 470.8,445.1 471.0,445.6 471.2,446.1 471.4,446.7 471.7,447.2 471.9,447.8 472.2,448.3 472.5,448.9 472.8,449.5 473.0,450.1 473.3,450.8 473.6,451.4 473.9,452.0 474.2,452.7 474.5,453.3 474.8,453.9 475.2,454.5 475.5,455.1 475.8,455.7 476.1,456.2 476.5,456.7 476.8,457.2 477.2,457.6 477.5,457.9 477.9,458.2 478.3,458.5 478.8,458.7 479.4,458.8 480.0,458.8 480.7,458.7 481.3,458.5 482.0,458.2 482.6,457.9 483.3,457.6 483.9,457.3 484.6,457.1 485.2,456.9 485.8,456.7 486.3,456.7 486.8,456.8 487.3,457.0 487.7,457.2 488.2,457.4 488.5,457.7 488.9,458.0 489.2,458.3 489.6,458.7 489.9,459.2 490.2,459.8 490.6,460.4 490.9,461.1 491.3,462.0 491.7,462.9 491.9,463.3 492.0,463.7 492.2,464.2 492.4,464.6 492.5,465.1 492.7,465.7 492.9,466.2 493.1,466.8 493.2,467.3 493.4,467.9 493.6,468.5 493.8,469.2 494.0,469.8 494.2,470.4 494.3,471.1 494.5,471.7 494.7,472.4 494.9,473.1 495.1,473.7 495.3,474.4 495.4,475.0 495.6,475.7 495.8,476.3 496.0,476.9 496.2,477.6 496.4,478.2 496.6,478.8 496.7,479.3 496.9,479.9 497.1,480.5 497.3,481.0 497.5,481.5 497.6,482.0 497.8,482.4 498.1,483.2 498.4,483.9 498.7,484.7 499.0,485.4 499.3,486.2 499.6,486.9 499.9,487.5 500.2,488.2 500.5,488.8 500.8,489.4 501.1,489.9 501.4,490.4 501.7,490.9 502.0,491.3 502.2,491.7 502.5,492.0 502.8,492.2 503.1,492.4 503.4,492.5 503.8,492.5 504.2,492.4 504.6,492.1 505.0,491.7 505.4,491.2 505.8,490.6 506.1,490.0 506.5,489.3 506.9,488.6 507.3,487.9 507.7,487.2 508.1,486.6 508.4,486.0 508.8,485.5 509.2,484.9 509.6,484.3 510.1,483.6 510.5,483.0 510.9,482.3 511.3,481.7 511.7,481.1 512.1,480.6 512.5,480.1 512.9,479.8 513.3,479.6 513.7,479.5 514.1,479.5 514.5,479.7 514.9,479.9 515.3,480.2 515.7,480.6 516.1,481.1 516.5,481.6 516.9,482.3 517.3,483.0 517.7,483.8 518.1,484.6 518.5,485.5 518.7,485.9 518.9,486.3 519.0,486.8 519.2,487.3 519.4,487.8 519.6,488.3 519.8,488.8 520.0,489.4 520.2,489.9 520.3,490.5 520.5,491.1 520.7,491.7 520.9,492.3 521.1,492.9 521.3,493.5 521.5,494.2 521.6,494.8 521.8,495.5 522.0,496.1 522.2,496.8 522.3,497.4 522.5,498.1 522.7,498.7 522.8,499.4 523.0,500.1 523.1,500.7 523.3,501.4 523.4,502.0 523.5,502.6 523.6,503.1 523.7,503.7 523.8,504.3 523.9,504.8 524.0,505.4 524.1,506.0 524.2,506.5 524.3,507.1 524.4,507.7 524.5,508.3 524.5,508.9 524.6,509.5 524.7,510.1 524.8,510.7 524.8,511.3 524.9,511.9 525.0,512.5 525.0,513.1 525.1,513.7 525.2,514.3 525.2,514.9 525.3,515.6 525.4,516.2 525.4,516.9 525.5,517.5 525.6,518.1 525.6,518.8 525.7,519.5 525.8,520.1 525.8,520.8 525.9,521.5 526.0,522.1 526.0,522.6 526.1,523.2 526.1,523.8 526.2,524.3 526.2,524.9 526.3,525.5 526.3,526.1 526.4,526.7 526.4,527.3 526.5,527.9 526.5,528.5 526.6,529.2 526.6,529.8 526.7,530.4 526.7,531.0 526.8,531.7 526.8,532.3 526.9,532.9 526.9,533.5 526.9,534.2 527.0,534.8 527.0,535.5 527.1,536.1 527.1,536.7 527.2,537.3 527.2,538.0 527.3,538.6 527.3,539.2 527.4,539.9 527.4,540.5 527.4,541.1 527.5,541.7 527.5,542.3 527.6,542.9 527.6,543.5 527.7,544.1 527.7,544.7 527.8,545.3 527.8,545.9 527.8,546.5 527.9,547.2 527.9,547.9 528.0,548.5 528.0,549.2 528.1,549.9 528.1,550.6 528.2,551.2 528.2,551.9 528.3,552.6 528.3,553.3 528.4,554.0 528.4,554.7 528.5,555.3 528.5,556.0 528.6,556.7 528.6,557.3 528.7,558.0 528.7,558.6 528.8,559.3 528.8,559.9 528.8,560.5 528.9,561.2 528.9,561.8 529.0,562.4 529.0,562.9 529.1,563.5 529.1,564.0 529.2,564.6 529.2,565.1 529.3,565.6 529.3,566.1 529.4,566.5 529.4,567.0 529.5,567.4 529.5,567.8 529.7,569.1 529.8,570.2 530.0,571.0 530.1,571.8 530.3,572.3 530.4,572.8 530.6,573.1 530.8,573.4 531.0,573.7 531.2,573.9 531.7,574.1 532.2,574.1 532.8,573.9 533.3,573.4 533.9,572.9 534.4,572.2 534.6,571.8 534.8,571.5 535.1,571.1 535.3,570.7 535.5,570.2 535.6,569.8 535.8,569.2 536.0,568.6 536.2,567.9 536.4,567.2 536.6,566.3 536.8,565.4 536.9,565.0 537.0,564.5 537.1,564.0 537.2,563.5 537.2,563.0 537.3,562.5 537.4,561.9 537.5,561.3 537.6,560.7 537.7,560.2 537.8,559.5 537.9,558.9 538.0,558.3 538.0,557.6 538.1,557.0 538.2,556.3 538.3,555.7 538.4,555.0 538.5,554.3 538.6,553.7 538.7,553.0 538.8,552.3 538.9,551.6 538.9,551.0 539.0,550.3 539.1,549.6 539.2,549.0 539.3,548.3 539.4,547.7 539.5,547.1 539.5,546.5 539.6,545.9 539.7,545.3 539.7,544.7 539.8,544.0 539.9,543.4 539.9,542.7 540.0,542.1 540.1,541.4 540.2,540.7 540.2,540.1 540.3,539.4 540.4,538.8 540.4,538.1 540.5,537.4 540.6,536.8 540.6,536.1 540.7,535.5 540.8,534.9 540.9,534.3 540.9,533.6 541.0,533.0 541.1,532.5 541.2,531.9 541.3,531.3 541.3,530.8 541.4,530.3 541.5,529.8 541.6,529.3 541.7,528.8 541.9,528.0 542.1,527.1 542.3,526.3 542.5,525.6 542.7,524.9 542.9,524.2 543.1,523.5 543.3,522.9 543.5,522.3 543.7,521.8 544.0,521.3 544.2,520.8 544.4,520.3 544.7,519.9 544.9,519.6 545.2,519.3 545.4,519.0 546.0,518.5 546.5,519.0 547.2,518.6 547.8,518.6 548.4,519.0 549.1,519.5 549.6,520.2 550.2,520.4 550.9,520.1 551.5,521.3 552.0,520.8 552.6,521.1 553.2,521.2 553.9,520.6 554.2,520.7 554.4,519.9 554.7,520.3 554.9,519.6 555.2,518.5 555.5,518.9 555.7,518.2 556.0,517.4 556.3,516.5 556.6,516.2 556.9,514.8 557.2,515.0 557.5,513.9 557.8,513.2 558.1,512.5 558.5,511.2 558.8,511.8 559.1,510.7 559.5,510.9 559.9,510.2 560.2,509.1 560.6,508.3 561.0,508.3 561.4,507.1 561.8,507.2 562.2,506.5 562.6,507.2 563.0,505.0 563.4,506.7 563.8,504.5 564.2,503.5 564.6,503.8 565.0,503.0 565.4,503.1 566.0,503.5 566.5,502.7 567.1,502.6 567.7,502.8 568.3,503.2 568.9,503.7 569.5,504.5 570.1,504.8 570.6,505.6 571.2,505.3 571.7,506.1 572.2,508.5 572.5,507.4 572.8,508.1 573.1,507.6 573.4,508.3 573.7,509.3 574.0,509.8 574.2,510.6 574.5,510.3 574.8,511.0 575.0,512.4 575.3,512.8 575.5,513.0 575.8,513.6 576.0,514.3 576.3,515.4 576.6,515.9 576.8,515.7 577.1,517.0 577.4,517.0 577.7,518.1 577.9,518.5 578.2,518.9 578.5,519.2 578.8,519.7 579.1,521.5 579.3,521.1 579.6,520.7 579.9,521.7 580.2,522.4 580.5,523.0 580.7,522.9 581.0,523.5 581.3,524.8 581.5,525.4 581.8,525.5 582.0,526.7 582.2,527.0 582.3,527.4 582.5,527.9 582.6,528.3 582.8,528.4 583.0,528.9 583.1,529.8 583.2,530.1 583.4,530.8 583.5,531.7 583.7,532.1 583.8,532.8 583.9,534.0 584.1,533.9 584.2,535.0 584.4,535.0 584.5,534.7 584.6,536.1 584.8,537.5 584.9,537.6 585.0,538.4 585.2,538.8 585.3,540.1 585.5,540.6 585.6,540.8 585.7,541.5 585.9,541.9 586.0,542.9 586.1,543.3 586.3,543.5 586.4,544.5 586.5,545.6 586.7,546.3 586.8,547.0 587.0,547.1 587.1,546.4 587.2,548.5 587.4,549.1 587.5,549.4 587.7,550.8 587.8,551.4 587.9,552.0 588.1,552.1 588.2,552.8 588.3,553.8 588.5,554.2 588.6,556.0 588.7,555.6 588.8,555.8 589.0,556.5 589.1,557.2 589.2,557.7 589.3,558.9 589.5,558.7 589.7,560.0 589.8,561.7 590.0,561.3 590.1,562.2 590.2,562.5 590.4,563.6 590.5,564.0 590.6,564.9 590.8,566.9 590.9,566.7 591.0,566.5 591.2,566.8 591.3,567.9 591.5,567.7 591.7,567.8 591.9,567.5 592.2,566.6 592.4,566.3 592.7,565.8 592.9,565.5 593.2,566.3 593.5,565.9 593.8,563.0 594.0,563.7 594.3,561.2 594.6,561.3 594.9,559.8 595.1,559.3 595.4,558.9 596.0,558.2 596.6,557.1 597.3,557.7 597.9,558.1 598.5,557.5 599.0,558.3 599.2,558.7 599.4,559.2 599.6,559.9 599.8,560.3 599.9,561.1 600.1,561.6 600.3,562.5 600.5,563.1 600.6,563.8 600.8,564.6 600.9,565.2 601.1,565.9 601.2,566.5 601.3,567.0 601.4,567.5 601.5,567.8" stroke="#f08220"/>
</g>
<g stroke="#000" stroke-width="2.4" fill="none">
<path d="M52.2,8.5 H602.4 V585.3 H52.2 Z" stroke-linejoin="miter"/>
<line x1="40.3" y1="585.3" x2="52.2" y2="585.3"/>
<line x1="581.5" y1="585.3" x2="581.5" y2="597.0"/>
<line x1="528.6" y1="585.3" x2="528.6" y2="591.8"/>
<line x1="475.6" y1="585.3" x2="475.6" y2="597.0"/>
<line x1="422.7" y1="585.3" x2="422.7" y2="591.8"/>
<line x1="369.8" y1="585.3" x2="369.8" y2="597.0"/>
<line x1="316.8" y1="585.3" x2="316.8" y2="591.8"/>
<line x1="263.9" y1="585.3" x2="263.9" y2="597.0"/>
<line x1="211.0" y1="585.3" x2="211.0" y2="591.8"/>
<line x1="158.1" y1="585.3" x2="158.1" y2="597.0"/>
<line x1="105.1" y1="585.3" x2="105.1" y2="591.8"/>
<line x1="52.2" y1="585.3" x2="52.2" y2="597.0"/>
</g>
<g font-size="24" fill="#000">
<text x="475.6" y="621.5" text-anchor="middle">2000</text>
<text x="369.8" y="621.5" text-anchor="middle">2500</text>
<text x="263.9" y="621.5" text-anchor="middle">3000</text>
<text x="158.1" y="621.5" text-anchor="middle">3500</text>
<text x="52.2" y="621.5" text-anchor="middle">4000</text>
<text x="568.15" y="621.5">500</text>
<path d="M561.7,604.7 L563.7,604.7 L563.7,621.5 L561.6,621.5 L561.6,608.6 Q559.7,610.4 557.2,611.6 L557.2,609.5 Q560.1,607.9 561.7,604.7 Z"/>
</g>
<g font-size="32" fill="#000">
<text x="177.6" y="167.5">A</text>
<text x="177.2" y="292">B</text>
<text x="177.3" y="357.8">C</text>
<text x="177.3" y="420.4">D</text>
<text x="177.2" y="512.4">E</text>
</g>
<text x="279.8" y="663.6" font-size="30.2" font-weight="bold">cm</text>
<rect x="324.4" y="640.9" width="4.3" height="2.0" fill="#000"/>
<path d="M334.3,633.7 L336.4,633.7 L336.4,646.4 L334.2,646.4 L334.2,636.9 Q332.7,638.4 330.6,639.4 L330.6,637.3 Q332.9,636.1 334.3,633.7 Z" fill="#000"/>
<text transform="translate(30.1,283.3) rotate(-90)" font-size="31" font-weight="bold">T</text>
<text transform="translate(30.6,319.2) rotate(-90)" font-size="33" font-weight="bold" textLength="23.6" lengthAdjust="spacingAndGlyphs" stroke="#000" stroke-width="0.7">%</text>
</svg>
</body></html>
